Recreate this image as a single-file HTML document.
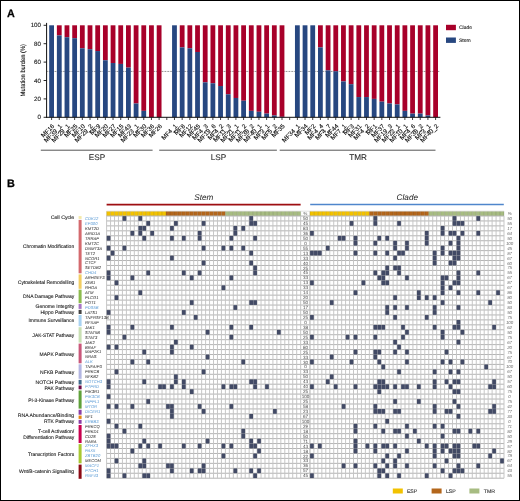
<!DOCTYPE html>
<html><head><meta charset="utf-8"><style>
html,body{margin:0;padding:0;background:#fff;-webkit-font-smoothing:antialiased;}
#w{position:relative;width:520px;height:501px;overflow:hidden;background:#fff;}
#b{position:absolute;left:0;top:0;width:520px;height:501px;box-sizing:border-box;border:1px solid #000;pointer-events:none;}
svg{position:absolute;left:0;top:0;display:block;will-change:transform;}
</style></head><body><div id="w">
<svg text-rendering="geometricPrecision" width="520" height="501" viewBox="0 0 520 501"><text x="6.95" y="16.6" font-family="Liberation Sans" font-weight="bold" font-size="10.8" fill="#000" stroke="#000" stroke-width="0.25">A</text><line x1="47.4" y1="71.45" x2="439.8" y2="71.45" stroke="#444" stroke-width="0.75" stroke-dasharray="0.75 0.8"/><g><rect x="49.2" y="25.3" width="4.8" height="92" fill="#274780"/><rect x="56.88" y="25.3" width="4.8" height="10.12" fill="#a8002a"/><rect x="56.88" y="35.42" width="4.8" height="81.88" fill="#274780"/><rect x="64.56" y="25.3" width="4.8" height="11.96" fill="#a8002a"/><rect x="64.56" y="37.26" width="4.8" height="80.04" fill="#274780"/><rect x="72.24" y="25.3" width="4.8" height="12.88" fill="#a8002a"/><rect x="72.24" y="38.18" width="4.8" height="79.12" fill="#274780"/><rect x="79.92" y="25.3" width="4.8" height="23" fill="#a8002a"/><rect x="79.92" y="48.3" width="4.8" height="69" fill="#274780"/><rect x="87.6" y="25.3" width="4.8" height="23.92" fill="#a8002a"/><rect x="87.6" y="49.22" width="4.8" height="68.08" fill="#274780"/><rect x="95.28" y="25.3" width="4.8" height="25.76" fill="#a8002a"/><rect x="95.28" y="51.06" width="4.8" height="66.24" fill="#274780"/><rect x="102.96" y="25.3" width="4.8" height="34.96" fill="#a8002a"/><rect x="102.96" y="60.26" width="4.8" height="57.04" fill="#274780"/><rect x="110.64" y="25.3" width="4.8" height="37.72" fill="#a8002a"/><rect x="110.64" y="63.02" width="4.8" height="54.28" fill="#274780"/><rect x="118.32" y="25.3" width="4.8" height="38.64" fill="#a8002a"/><rect x="118.32" y="63.94" width="4.8" height="53.36" fill="#274780"/><rect x="126" y="25.3" width="4.8" height="42.32" fill="#a8002a"/><rect x="126" y="67.62" width="4.8" height="49.68" fill="#274780"/><rect x="133.68" y="25.3" width="4.8" height="78.2" fill="#a8002a"/><rect x="133.68" y="103.5" width="4.8" height="13.8" fill="#274780"/><rect x="141.36" y="25.3" width="4.8" height="85.56" fill="#a8002a"/><rect x="141.36" y="110.86" width="4.8" height="6.44" fill="#274780"/><rect x="149.04" y="25.3" width="4.8" height="92" fill="#a8002a"/><rect x="156.72" y="25.3" width="4.8" height="92" fill="#a8002a"/><rect x="172.08" y="25.3" width="4.8" height="92" fill="#274780"/><rect x="179.76" y="25.3" width="4.8" height="22.08" fill="#a8002a"/><rect x="179.76" y="47.38" width="4.8" height="69.92" fill="#274780"/><rect x="187.44" y="25.3" width="4.8" height="23" fill="#a8002a"/><rect x="187.44" y="48.3" width="4.8" height="69" fill="#274780"/><rect x="195.12" y="25.3" width="4.8" height="26.68" fill="#a8002a"/><rect x="195.12" y="51.98" width="4.8" height="65.32" fill="#274780"/><rect x="202.8" y="25.3" width="4.8" height="57.04" fill="#a8002a"/><rect x="202.8" y="82.34" width="4.8" height="34.96" fill="#274780"/><rect x="210.48" y="25.3" width="4.8" height="57.96" fill="#a8002a"/><rect x="210.48" y="83.26" width="4.8" height="34.04" fill="#274780"/><rect x="218.16" y="25.3" width="4.8" height="60.72" fill="#a8002a"/><rect x="218.16" y="86.02" width="4.8" height="31.28" fill="#274780"/><rect x="225.84" y="25.3" width="4.8" height="69" fill="#a8002a"/><rect x="225.84" y="94.3" width="4.8" height="23" fill="#274780"/><rect x="233.52" y="25.3" width="4.8" height="72.68" fill="#a8002a"/><rect x="233.52" y="97.98" width="4.8" height="19.32" fill="#274780"/><rect x="241.2" y="25.3" width="4.8" height="75.44" fill="#a8002a"/><rect x="241.2" y="100.74" width="4.8" height="16.56" fill="#274780"/><rect x="248.88" y="25.3" width="4.8" height="85.56" fill="#a8002a"/><rect x="248.88" y="110.86" width="4.8" height="6.44" fill="#274780"/><rect x="256.56" y="25.3" width="4.8" height="86.48" fill="#a8002a"/><rect x="256.56" y="111.78" width="4.8" height="5.52" fill="#274780"/><rect x="264.24" y="25.3" width="4.8" height="88.32" fill="#a8002a"/><rect x="264.24" y="113.62" width="4.8" height="3.68" fill="#274780"/><rect x="271.92" y="25.3" width="4.8" height="90.16" fill="#a8002a"/><rect x="271.92" y="115.46" width="4.8" height="1.84" fill="#274780"/><rect x="279.6" y="25.3" width="4.8" height="91.54" fill="#a8002a"/><rect x="279.6" y="116.84" width="4.8" height="0.46" fill="#274780"/><rect x="294.96" y="25.3" width="4.8" height="92" fill="#274780"/><rect x="302.64" y="25.3" width="4.8" height="92" fill="#274780"/><rect x="310.32" y="25.3" width="4.8" height="92" fill="#274780"/><rect x="318" y="25.3" width="4.8" height="22.08" fill="#a8002a"/><rect x="318" y="47.38" width="4.8" height="69.92" fill="#274780"/><rect x="325.68" y="25.3" width="4.8" height="45.08" fill="#a8002a"/><rect x="325.68" y="70.38" width="4.8" height="46.92" fill="#274780"/><rect x="333.36" y="25.3" width="4.8" height="46" fill="#a8002a"/><rect x="333.36" y="71.3" width="4.8" height="46" fill="#274780"/><rect x="341.04" y="25.3" width="4.8" height="56.12" fill="#a8002a"/><rect x="341.04" y="81.42" width="4.8" height="35.88" fill="#274780"/><rect x="348.72" y="25.3" width="4.8" height="58.88" fill="#a8002a"/><rect x="348.72" y="84.18" width="4.8" height="33.12" fill="#274780"/><rect x="356.4" y="25.3" width="4.8" height="71.76" fill="#a8002a"/><rect x="356.4" y="97.06" width="4.8" height="20.24" fill="#274780"/><rect x="364.08" y="25.3" width="4.8" height="71.76" fill="#a8002a"/><rect x="364.08" y="97.06" width="4.8" height="20.24" fill="#274780"/><rect x="371.76" y="25.3" width="4.8" height="73.6" fill="#a8002a"/><rect x="371.76" y="98.9" width="4.8" height="18.4" fill="#274780"/><rect x="379.44" y="25.3" width="4.8" height="76.36" fill="#a8002a"/><rect x="379.44" y="101.66" width="4.8" height="15.64" fill="#274780"/><rect x="387.12" y="25.3" width="4.8" height="78.2" fill="#a8002a"/><rect x="387.12" y="103.5" width="4.8" height="13.8" fill="#274780"/><rect x="394.8" y="25.3" width="4.8" height="79.12" fill="#a8002a"/><rect x="394.8" y="104.42" width="4.8" height="12.88" fill="#274780"/><rect x="402.48" y="25.3" width="4.8" height="85.56" fill="#a8002a"/><rect x="402.48" y="110.86" width="4.8" height="6.44" fill="#274780"/><rect x="410.16" y="25.3" width="4.8" height="88.32" fill="#a8002a"/><rect x="410.16" y="113.62" width="4.8" height="3.68" fill="#274780"/><rect x="417.84" y="25.3" width="4.8" height="88.32" fill="#a8002a"/><rect x="417.84" y="113.62" width="4.8" height="3.68" fill="#274780"/><rect x="425.52" y="25.3" width="4.8" height="90.16" fill="#a8002a"/><rect x="425.52" y="115.46" width="4.8" height="1.84" fill="#274780"/><rect x="433.2" y="25.3" width="4.8" height="92" fill="#a8002a"/></g><line x1="46.6" y1="22.9" x2="46.6" y2="117.8" stroke="#111" stroke-width="1"/><line x1="46.1" y1="117.3" x2="440.4" y2="117.3" stroke="#111" stroke-width="1"/><line x1="43.6" y1="117.3" x2="46.6" y2="117.3" stroke="#111" stroke-width="0.9"/><text x="41.0" y="119.4" text-anchor="end" font-family="Liberation Sans" font-size="6.2" fill="#1a1a1a" stroke="#1a1a1a" stroke-width="0.12">0</text><line x1="43.6" y1="98.9" x2="46.6" y2="98.9" stroke="#111" stroke-width="0.9"/><text x="41.0" y="101" text-anchor="end" font-family="Liberation Sans" font-size="6.2" fill="#1a1a1a" stroke="#1a1a1a" stroke-width="0.12">20</text><line x1="43.6" y1="80.5" x2="46.6" y2="80.5" stroke="#111" stroke-width="0.9"/><text x="41.0" y="82.6" text-anchor="end" font-family="Liberation Sans" font-size="6.2" fill="#1a1a1a" stroke="#1a1a1a" stroke-width="0.12">40</text><line x1="43.6" y1="62.1" x2="46.6" y2="62.1" stroke="#111" stroke-width="0.9"/><text x="41.0" y="64.2" text-anchor="end" font-family="Liberation Sans" font-size="6.2" fill="#1a1a1a" stroke="#1a1a1a" stroke-width="0.12">60</text><line x1="43.6" y1="43.7" x2="46.6" y2="43.7" stroke="#111" stroke-width="0.9"/><text x="41.0" y="45.8" text-anchor="end" font-family="Liberation Sans" font-size="6.2" fill="#1a1a1a" stroke="#1a1a1a" stroke-width="0.12">80</text><line x1="43.6" y1="25.3" x2="46.6" y2="25.3" stroke="#111" stroke-width="0.9"/><text x="41.0" y="27.4" text-anchor="end" font-family="Liberation Sans" font-size="6.2" fill="#1a1a1a" stroke="#1a1a1a" stroke-width="0.12">100</text><path d="M51.6 117.3v2.7 M59.28 117.3v2.7 M66.96 117.3v2.7 M74.64 117.3v2.7 M82.32 117.3v2.7 M90 117.3v2.7 M97.68 117.3v2.7 M105.36 117.3v2.7 M113.04 117.3v2.7 M120.72 117.3v2.7 M128.4 117.3v2.7 M136.08 117.3v2.7 M143.76 117.3v2.7 M151.44 117.3v2.7 M159.12 117.3v2.7 M166.8 117.3v2.7 M174.48 117.3v2.7 M182.16 117.3v2.7 M189.84 117.3v2.7 M197.52 117.3v2.7 M205.2 117.3v2.7 M212.88 117.3v2.7 M220.56 117.3v2.7 M228.24 117.3v2.7 M235.92 117.3v2.7 M243.6 117.3v2.7 M251.28 117.3v2.7 M258.96 117.3v2.7 M266.64 117.3v2.7 M274.32 117.3v2.7 M282 117.3v2.7 M289.68 117.3v2.7 M297.36 117.3v2.7 M305.04 117.3v2.7 M312.72 117.3v2.7 M320.4 117.3v2.7 M328.08 117.3v2.7 M335.76 117.3v2.7 M343.44 117.3v2.7 M351.12 117.3v2.7 M358.8 117.3v2.7 M366.48 117.3v2.7 M374.16 117.3v2.7 M381.84 117.3v2.7 M389.52 117.3v2.7 M397.2 117.3v2.7 M404.88 117.3v2.7 M412.56 117.3v2.7 M420.24 117.3v2.7 M427.92 117.3v2.7 M435.6 117.3v2.7" stroke="#111" stroke-width="0.8"/><text transform="translate(24.9 96.4) rotate(-90)" textLength="52.4" lengthAdjust="spacingAndGlyphs" font-family="Liberation Sans" font-size="6.4" fill="#1a1a1a" stroke="#1a1a1a" stroke-width="0.12">Mutation burden (%)</text><text transform="translate(54.8 126.6) rotate(-45) scale(1 1)" text-anchor="end" font-family="Liberation Sans" font-size="6.2" fill="#111" stroke="#111" stroke-width="0.14">MF16</text><text transform="translate(62.48 126.6) rotate(-45) scale(1 1)" text-anchor="end" font-family="Liberation Sans" font-size="6.2" fill="#111" stroke="#111" stroke-width="0.14">MF39_1</text><text transform="translate(70.16 126.6) rotate(-45) scale(1 1)" text-anchor="end" font-family="Liberation Sans" font-size="6.2" fill="#111" stroke="#111" stroke-width="0.14">MF29_1</text><text transform="translate(77.84 126.6) rotate(-45) scale(1 1)" text-anchor="end" font-family="Liberation Sans" font-size="6.2" fill="#111" stroke="#111" stroke-width="0.14">MF25</text><text transform="translate(85.52 126.6) rotate(-45) scale(1 1)" text-anchor="end" font-family="Liberation Sans" font-size="6.2" fill="#111" stroke="#111" stroke-width="0.14">MF10</text><text transform="translate(93.2 126.6) rotate(-45) scale(1 1)" text-anchor="end" font-family="Liberation Sans" font-size="6.2" fill="#111" stroke="#111" stroke-width="0.14">MF29_2</text><text transform="translate(100.88 126.6) rotate(-45) scale(1 1)" text-anchor="end" font-family="Liberation Sans" font-size="6.2" fill="#111" stroke="#111" stroke-width="0.14">MF9</text><text transform="translate(108.56 126.6) rotate(-45) scale(1 1)" text-anchor="end" font-family="Liberation Sans" font-size="6.2" fill="#111" stroke="#111" stroke-width="0.14">MF20</text><text transform="translate(116.24 126.6) rotate(-45) scale(1 1)" text-anchor="end" font-family="Liberation Sans" font-size="6.2" fill="#111" stroke="#111" stroke-width="0.14">MF27</text><text transform="translate(123.92 126.6) rotate(-45) scale(1 1)" text-anchor="end" font-family="Liberation Sans" font-size="6.2" fill="#111" stroke="#111" stroke-width="0.14">MF15</text><text transform="translate(131.6 126.6) rotate(-45) scale(1 1)" text-anchor="end" font-family="Liberation Sans" font-size="6.2" fill="#111" stroke="#111" stroke-width="0.14">MF43</text><text transform="translate(139.28 126.6) rotate(-45) scale(1 1)" text-anchor="end" font-family="Liberation Sans" font-size="6.2" fill="#111" stroke="#111" stroke-width="0.14">MF23_1</text><text transform="translate(146.96 126.6) rotate(-45) scale(1 1)" text-anchor="end" font-family="Liberation Sans" font-size="6.2" fill="#111" stroke="#111" stroke-width="0.14">MF30</text><text transform="translate(154.64 126.6) rotate(-45) scale(1 1)" text-anchor="end" font-family="Liberation Sans" font-size="6.2" fill="#111" stroke="#111" stroke-width="0.14">MF36</text><text transform="translate(162.32 126.6) rotate(-45) scale(1 1)" text-anchor="end" font-family="Liberation Sans" font-size="6.2" fill="#111" stroke="#111" stroke-width="0.14">MF26</text><text transform="translate(177.68 126.6) rotate(-45) scale(1 1)" text-anchor="end" font-family="Liberation Sans" font-size="6.2" fill="#111" stroke="#111" stroke-width="0.14">MF4_1</text><text transform="translate(185.36 126.6) rotate(-45) scale(1 1)" text-anchor="end" font-family="Liberation Sans" font-size="6.2" fill="#111" stroke="#111" stroke-width="0.14">MF8</text><text transform="translate(193.04 126.6) rotate(-45) scale(1 1)" text-anchor="end" font-family="Liberation Sans" font-size="6.2" fill="#111" stroke="#111" stroke-width="0.14">MF12</text><text transform="translate(200.72 126.6) rotate(-45) scale(1 1)" text-anchor="end" font-family="Liberation Sans" font-size="6.2" fill="#111" stroke="#111" stroke-width="0.14">MF45</text><text transform="translate(208.4 126.6) rotate(-45) scale(1 1)" text-anchor="end" font-family="Liberation Sans" font-size="6.2" fill="#111" stroke="#111" stroke-width="0.14">MF4_3</text><text transform="translate(216.08 126.6) rotate(-45) scale(1 1)" text-anchor="end" font-family="Liberation Sans" font-size="6.2" fill="#111" stroke="#111" stroke-width="0.14">MF19_6</text><text transform="translate(223.76 126.6) rotate(-45) scale(1 1)" text-anchor="end" font-family="Liberation Sans" font-size="6.2" fill="#111" stroke="#111" stroke-width="0.14">MF4_2</text><text transform="translate(231.44 126.6) rotate(-45) scale(1 1)" text-anchor="end" font-family="Liberation Sans" font-size="6.2" fill="#111" stroke="#111" stroke-width="0.14">MF11_3</text><text transform="translate(239.12 126.6) rotate(-45) scale(1 1)" text-anchor="end" font-family="Liberation Sans" font-size="6.2" fill="#111" stroke="#111" stroke-width="0.14">MF21_1</text><text transform="translate(246.8 126.6) rotate(-45) scale(1 1)" text-anchor="end" font-family="Liberation Sans" font-size="6.2" fill="#111" stroke="#111" stroke-width="0.14">MF11_2</text><text transform="translate(254.48 126.6) rotate(-45) scale(1 1)" text-anchor="end" font-family="Liberation Sans" font-size="6.2" fill="#111" stroke="#111" stroke-width="0.14">MF38_2</text><text transform="translate(262.16 126.6) rotate(-45) scale(1 1)" text-anchor="end" font-family="Liberation Sans" font-size="6.2" fill="#111" stroke="#111" stroke-width="0.14">MF40_1</text><text transform="translate(269.84 126.6) rotate(-45) scale(1 1)" text-anchor="end" font-family="Liberation Sans" font-size="6.2" fill="#111" stroke="#111" stroke-width="0.14">MF3_1</text><text transform="translate(277.52 126.6) rotate(-45) scale(1 1)" text-anchor="end" font-family="Liberation Sans" font-size="6.2" fill="#111" stroke="#111" stroke-width="0.14">MF5_2</text><text transform="translate(285.2 126.6) rotate(-45) scale(1 1)" text-anchor="end" font-family="Liberation Sans" font-size="6.2" fill="#111" stroke="#111" stroke-width="0.14">MF35</text><text transform="translate(300.56 126.6) rotate(-45) scale(1 1)" text-anchor="end" font-family="Liberation Sans" font-size="6.2" fill="#111" stroke="#111" stroke-width="0.14">MF34_1</text><text transform="translate(308.24 126.6) rotate(-45) scale(1 1)" text-anchor="end" font-family="Liberation Sans" font-size="6.2" fill="#111" stroke="#111" stroke-width="0.14">MF34</text><text transform="translate(315.92 126.6) rotate(-45) scale(1 1)" text-anchor="end" font-family="Liberation Sans" font-size="6.2" fill="#111" stroke="#111" stroke-width="0.14">MF2</text><text transform="translate(323.6 126.6) rotate(-45) scale(1 1)" text-anchor="end" font-family="Liberation Sans" font-size="6.2" fill="#111" stroke="#111" stroke-width="0.14">MF4_4</text><text transform="translate(331.28 126.6) rotate(-45) scale(1 1)" text-anchor="end" font-family="Liberation Sans" font-size="6.2" fill="#111" stroke="#111" stroke-width="0.14">MF4_7</text><text transform="translate(338.96 126.6) rotate(-45) scale(1 1)" text-anchor="end" font-family="Liberation Sans" font-size="6.2" fill="#111" stroke="#111" stroke-width="0.14">MF44</text><text transform="translate(346.64 126.6) rotate(-45) scale(1 1)" text-anchor="end" font-family="Liberation Sans" font-size="6.2" fill="#111" stroke="#111" stroke-width="0.14">MF7_1</text><text transform="translate(354.32 126.6) rotate(-45) scale(1 1)" text-anchor="end" font-family="Liberation Sans" font-size="6.2" fill="#111" stroke="#111" stroke-width="0.14">MF3</text><text transform="translate(362 126.6) rotate(-45) scale(1 1)" text-anchor="end" font-family="Liberation Sans" font-size="6.2" fill="#111" stroke="#111" stroke-width="0.14">MF31</text><text transform="translate(369.68 126.6) rotate(-45) scale(1 1)" text-anchor="end" font-family="Liberation Sans" font-size="6.2" fill="#111" stroke="#111" stroke-width="0.14">MF4_2</text><text transform="translate(377.36 126.6) rotate(-45) scale(1 1)" text-anchor="end" font-family="Liberation Sans" font-size="6.2" fill="#111" stroke="#111" stroke-width="0.14">MF1</text><text transform="translate(385.04 126.6) rotate(-45) scale(1 1)" text-anchor="end" font-family="Liberation Sans" font-size="6.2" fill="#111" stroke="#111" stroke-width="0.14">MF37</text><text transform="translate(392.72 126.6) rotate(-45) scale(1 1)" text-anchor="end" font-family="Liberation Sans" font-size="6.2" fill="#111" stroke="#111" stroke-width="0.14">MF19_3</text><text transform="translate(400.4 126.6) rotate(-45) scale(1 1)" text-anchor="end" font-family="Liberation Sans" font-size="6.2" fill="#111" stroke="#111" stroke-width="0.14">MF22_1</text><text transform="translate(408.08 126.6) rotate(-45) scale(1 1)" text-anchor="end" font-family="Liberation Sans" font-size="6.2" fill="#111" stroke="#111" stroke-width="0.14">MF10_1</text><text transform="translate(415.76 126.6) rotate(-45) scale(1 1)" text-anchor="end" font-family="Liberation Sans" font-size="6.2" fill="#111" stroke="#111" stroke-width="0.14">MF4_6</text><text transform="translate(423.44 126.6) rotate(-45) scale(1 1)" text-anchor="end" font-family="Liberation Sans" font-size="6.2" fill="#111" stroke="#111" stroke-width="0.14">MF38_2</text><text transform="translate(431.12 126.6) rotate(-45) scale(1 1)" text-anchor="end" font-family="Liberation Sans" font-size="6.2" fill="#111" stroke="#111" stroke-width="0.14">MF3_1</text><text transform="translate(438.8 126.6) rotate(-45) scale(1 1)" text-anchor="end" font-family="Liberation Sans" font-size="6.2" fill="#111" stroke="#111" stroke-width="0.14">MF40_2</text><line x1="40.8" y1="150.2" x2="152.6" y2="150.2" stroke="#555" stroke-width="1"/><text x="97.0" y="160.4" text-anchor="middle" font-family="Liberation Sans" font-size="8.2" fill="#2a2a2a" stroke="#2a2a2a" stroke-width="0.1">ESP</text><line x1="159.2" y1="150.2" x2="276.9" y2="150.2" stroke="#555" stroke-width="1"/><text x="218.5" y="160.4" text-anchor="middle" font-family="Liberation Sans" font-size="8.2" fill="#2a2a2a" stroke="#2a2a2a" stroke-width="0.1">LSP</text><line x1="279.7" y1="150.2" x2="435.5" y2="150.2" stroke="#555" stroke-width="1"/><text x="358.0" y="160.4" text-anchor="middle" font-family="Liberation Sans" font-size="8.2" fill="#2a2a2a" stroke="#2a2a2a" stroke-width="0.1">TMR</text><rect x="446" y="24.8" width="9.9" height="5.4" fill="#a8002a"/><rect x="446" y="37.5" width="9.9" height="5.4" fill="#274780"/><text x="459" y="29.1" font-family="Liberation Sans" font-size="5.0" fill="#222" stroke="#222" stroke-width="0.1">Clade</text><text x="459" y="41.9" font-family="Liberation Sans" font-size="5.0" fill="#222" stroke="#222" stroke-width="0.1">Stem</text><text x="6.95" y="186.5" font-family="Liberation Sans" font-weight="bold" font-size="10.8" fill="#000" stroke="#000" stroke-width="0.25">B</text><text x="203.9" y="199.5" text-anchor="middle" font-family="Liberation Sans" font-style="italic" font-size="8.2" fill="#222">Stem</text><text x="407.3" y="199.6" text-anchor="middle" font-family="Liberation Sans" font-style="italic" font-size="8.2" fill="#222">Clade</text><line x1="106.6" y1="204.6" x2="300.64" y2="204.6" stroke="#9e0e12" stroke-width="1.6"/><line x1="310.2" y1="204.5" x2="503.8" y2="204.5" stroke="#4f86cc" stroke-width="1.5"/><rect x="300.64" y="211.2" width="9.31" height="4.8" fill="#fff"/><rect x="106.6" y="211.2" width="3.96" height="4.8" fill="#f2c200"/><rect x="110.56" y="211.2" width="3.96" height="4.8" fill="#f2c200"/><rect x="114.52" y="211.2" width="3.96" height="4.8" fill="#f2c200"/><rect x="118.48" y="211.2" width="3.96" height="4.8" fill="#f2c200"/><rect x="122.44" y="211.2" width="3.96" height="4.8" fill="#f2c200"/><rect x="126.4" y="211.2" width="3.96" height="4.8" fill="#f2c200"/><rect x="130.36" y="211.2" width="3.96" height="4.8" fill="#f2c200"/><rect x="134.32" y="211.2" width="3.96" height="4.8" fill="#f2c200"/><rect x="138.28" y="211.2" width="3.96" height="4.8" fill="#f2c200"/><rect x="142.24" y="211.2" width="3.96" height="4.8" fill="#f2c200"/><rect x="146.2" y="211.2" width="3.96" height="4.8" fill="#f2c200"/><rect x="150.16" y="211.2" width="3.96" height="4.8" fill="#f2c200"/><rect x="154.12" y="211.2" width="3.96" height="4.8" fill="#f2c200"/><rect x="158.08" y="211.2" width="3.96" height="4.8" fill="#f2c200"/><rect x="162.04" y="211.2" width="3.96" height="4.8" fill="#f2c200"/><rect x="166" y="211.2" width="3.96" height="4.8" fill="#b3661b"/><rect x="169.96" y="211.2" width="3.96" height="4.8" fill="#b3661b"/><rect x="173.92" y="211.2" width="3.96" height="4.8" fill="#b3661b"/><rect x="177.88" y="211.2" width="3.96" height="4.8" fill="#b3661b"/><rect x="181.84" y="211.2" width="3.96" height="4.8" fill="#b3661b"/><rect x="185.8" y="211.2" width="3.96" height="4.8" fill="#b3661b"/><rect x="189.76" y="211.2" width="3.96" height="4.8" fill="#b3661b"/><rect x="193.72" y="211.2" width="3.96" height="4.8" fill="#b3661b"/><rect x="197.68" y="211.2" width="3.96" height="4.8" fill="#b3661b"/><rect x="201.64" y="211.2" width="3.96" height="4.8" fill="#b3661b"/><rect x="205.6" y="211.2" width="3.96" height="4.8" fill="#b3661b"/><rect x="209.56" y="211.2" width="3.96" height="4.8" fill="#b3661b"/><rect x="213.52" y="211.2" width="3.96" height="4.8" fill="#b3661b"/><rect x="217.48" y="211.2" width="3.96" height="4.8" fill="#b3661b"/><rect x="221.44" y="211.2" width="3.96" height="4.8" fill="#b3661b"/><rect x="225.4" y="211.2" width="3.96" height="4.8" fill="#a7bc82"/><rect x="229.36" y="211.2" width="3.96" height="4.8" fill="#a7bc82"/><rect x="233.32" y="211.2" width="3.96" height="4.8" fill="#a7bc82"/><rect x="237.28" y="211.2" width="3.96" height="4.8" fill="#a7bc82"/><rect x="241.24" y="211.2" width="3.96" height="4.8" fill="#a7bc82"/><rect x="245.2" y="211.2" width="3.96" height="4.8" fill="#a7bc82"/><rect x="249.16" y="211.2" width="3.96" height="4.8" fill="#a7bc82"/><rect x="253.12" y="211.2" width="3.96" height="4.8" fill="#a7bc82"/><rect x="257.08" y="211.2" width="3.96" height="4.8" fill="#a7bc82"/><rect x="261.04" y="211.2" width="3.96" height="4.8" fill="#a7bc82"/><rect x="265" y="211.2" width="3.96" height="4.8" fill="#a7bc82"/><rect x="268.96" y="211.2" width="3.96" height="4.8" fill="#a7bc82"/><rect x="272.92" y="211.2" width="3.96" height="4.8" fill="#a7bc82"/><rect x="276.88" y="211.2" width="3.96" height="4.8" fill="#a7bc82"/><rect x="280.84" y="211.2" width="3.96" height="4.8" fill="#a7bc82"/><rect x="284.8" y="211.2" width="3.96" height="4.8" fill="#a7bc82"/><rect x="288.76" y="211.2" width="3.96" height="4.8" fill="#a7bc82"/><rect x="292.72" y="211.2" width="3.96" height="4.8" fill="#a7bc82"/><rect x="296.68" y="211.2" width="3.96" height="4.8" fill="#a7bc82"/><path d="M106.6 211.2V216M110.56 211.2V216M114.52 211.2V216M118.48 211.2V216M122.44 211.2V216M126.4 211.2V216M130.36 211.2V216M134.32 211.2V216M138.28 211.2V216M142.24 211.2V216M146.2 211.2V216M150.16 211.2V216M154.12 211.2V216M158.08 211.2V216M162.04 211.2V216M166 211.2V216M169.96 211.2V216M173.92 211.2V216M177.88 211.2V216M181.84 211.2V216M185.8 211.2V216M189.76 211.2V216M193.72 211.2V216M197.68 211.2V216M201.64 211.2V216M205.6 211.2V216M209.56 211.2V216M213.52 211.2V216M217.48 211.2V216M221.44 211.2V216M225.4 211.2V216M229.36 211.2V216M233.32 211.2V216M237.28 211.2V216M241.24 211.2V216M245.2 211.2V216M249.16 211.2V216M253.12 211.2V216M257.08 211.2V216M261.04 211.2V216M265 211.2V216M268.96 211.2V216M272.92 211.2V216M276.88 211.2V216M280.84 211.2V216M284.8 211.2V216M288.76 211.2V216M292.72 211.2V216M296.68 211.2V216M300.64 211.2V216M309.95 211.2V216" stroke="#000" stroke-opacity="0.16" stroke-width="0.8" fill="none"/><rect x="309.95" y="211.2" width="3.96" height="4.8" fill="#f2c200"/><rect x="313.91" y="211.2" width="3.96" height="4.8" fill="#f2c200"/><rect x="317.87" y="211.2" width="3.96" height="4.8" fill="#f2c200"/><rect x="321.83" y="211.2" width="3.96" height="4.8" fill="#f2c200"/><rect x="325.79" y="211.2" width="3.96" height="4.8" fill="#f2c200"/><rect x="329.75" y="211.2" width="3.96" height="4.8" fill="#f2c200"/><rect x="333.71" y="211.2" width="3.96" height="4.8" fill="#f2c200"/><rect x="337.67" y="211.2" width="3.96" height="4.8" fill="#f2c200"/><rect x="341.63" y="211.2" width="3.96" height="4.8" fill="#f2c200"/><rect x="345.59" y="211.2" width="3.96" height="4.8" fill="#f2c200"/><rect x="349.55" y="211.2" width="3.96" height="4.8" fill="#f2c200"/><rect x="353.51" y="211.2" width="3.96" height="4.8" fill="#f2c200"/><rect x="357.47" y="211.2" width="3.96" height="4.8" fill="#f2c200"/><rect x="361.43" y="211.2" width="3.96" height="4.8" fill="#f2c200"/><rect x="365.39" y="211.2" width="3.96" height="4.8" fill="#f2c200"/><rect x="369.35" y="211.2" width="3.96" height="4.8" fill="#b3661b"/><rect x="373.31" y="211.2" width="3.96" height="4.8" fill="#b3661b"/><rect x="377.27" y="211.2" width="3.96" height="4.8" fill="#b3661b"/><rect x="381.23" y="211.2" width="3.96" height="4.8" fill="#b3661b"/><rect x="385.19" y="211.2" width="3.96" height="4.8" fill="#b3661b"/><rect x="389.15" y="211.2" width="3.96" height="4.8" fill="#b3661b"/><rect x="393.11" y="211.2" width="3.96" height="4.8" fill="#b3661b"/><rect x="397.07" y="211.2" width="3.96" height="4.8" fill="#b3661b"/><rect x="401.03" y="211.2" width="3.96" height="4.8" fill="#b3661b"/><rect x="404.99" y="211.2" width="3.96" height="4.8" fill="#b3661b"/><rect x="408.95" y="211.2" width="3.96" height="4.8" fill="#b3661b"/><rect x="412.91" y="211.2" width="3.96" height="4.8" fill="#b3661b"/><rect x="416.87" y="211.2" width="3.96" height="4.8" fill="#b3661b"/><rect x="420.83" y="211.2" width="3.96" height="4.8" fill="#b3661b"/><rect x="424.79" y="211.2" width="3.96" height="4.8" fill="#b3661b"/><rect x="428.75" y="211.2" width="3.96" height="4.8" fill="#a7bc82"/><rect x="432.71" y="211.2" width="3.96" height="4.8" fill="#a7bc82"/><rect x="436.67" y="211.2" width="3.96" height="4.8" fill="#a7bc82"/><rect x="440.63" y="211.2" width="3.96" height="4.8" fill="#a7bc82"/><rect x="444.59" y="211.2" width="3.96" height="4.8" fill="#a7bc82"/><rect x="448.55" y="211.2" width="3.96" height="4.8" fill="#a7bc82"/><rect x="452.51" y="211.2" width="3.96" height="4.8" fill="#a7bc82"/><rect x="456.47" y="211.2" width="3.96" height="4.8" fill="#a7bc82"/><rect x="460.43" y="211.2" width="3.96" height="4.8" fill="#a7bc82"/><rect x="464.39" y="211.2" width="3.96" height="4.8" fill="#a7bc82"/><rect x="468.35" y="211.2" width="3.96" height="4.8" fill="#a7bc82"/><rect x="472.31" y="211.2" width="3.96" height="4.8" fill="#a7bc82"/><rect x="476.27" y="211.2" width="3.96" height="4.8" fill="#a7bc82"/><rect x="480.23" y="211.2" width="3.96" height="4.8" fill="#a7bc82"/><rect x="484.19" y="211.2" width="3.96" height="4.8" fill="#a7bc82"/><rect x="488.15" y="211.2" width="3.96" height="4.8" fill="#a7bc82"/><rect x="492.11" y="211.2" width="3.96" height="4.8" fill="#a7bc82"/><rect x="496.07" y="211.2" width="3.96" height="4.8" fill="#a7bc82"/><rect x="500.03" y="211.2" width="3.96" height="4.8" fill="#a7bc82"/><path d="M309.95 211.2V216M313.91 211.2V216M317.87 211.2V216M321.83 211.2V216M325.79 211.2V216M329.75 211.2V216M333.71 211.2V216M337.67 211.2V216M341.63 211.2V216M345.59 211.2V216M349.55 211.2V216M353.51 211.2V216M357.47 211.2V216M361.43 211.2V216M365.39 211.2V216M369.35 211.2V216M373.31 211.2V216M377.27 211.2V216M381.23 211.2V216M385.19 211.2V216M389.15 211.2V216M393.11 211.2V216M397.07 211.2V216M401.03 211.2V216M404.99 211.2V216M408.95 211.2V216M412.91 211.2V216M416.87 211.2V216M420.83 211.2V216M424.79 211.2V216M428.75 211.2V216M432.71 211.2V216M436.67 211.2V216M440.63 211.2V216M444.59 211.2V216M448.55 211.2V216M452.51 211.2V216M456.47 211.2V216M460.43 211.2V216M464.39 211.2V216M468.35 211.2V216M472.31 211.2V216M476.27 211.2V216M480.23 211.2V216M484.19 211.2V216M488.15 211.2V216M492.11 211.2V216M496.07 211.2V216M500.03 211.2V216M503.99 211.2V216" stroke="#000" stroke-opacity="0.16" stroke-width="0.8" fill="none"/><rect x="106.6" y="216.0" width="203.35" height="262.19" fill="#fff"/><rect x="309.95" y="216.0" width="194.04" height="262.19" fill="#fff"/><path d="M106.6 216H309.95M106.6 220.95H309.95M106.6 225.89H309.95M106.6 230.84H309.95M106.6 235.79H309.95M106.6 240.74H309.95M106.6 245.68H309.95M106.6 250.63H309.95M106.6 255.58H309.95M106.6 260.52H309.95M106.6 265.47H309.95M106.6 270.42H309.95M106.6 275.36H309.95M106.6 280.31H309.95M106.6 285.26H309.95M106.6 290.2H309.95M106.6 295.15H309.95M106.6 300.1H309.95M106.6 305.05H309.95M106.6 309.99H309.95M106.6 314.94H309.95M106.6 319.89H309.95M106.6 324.83H309.95M106.6 329.78H309.95M106.6 334.73H309.95M106.6 339.68H309.95M106.6 344.62H309.95M106.6 349.57H309.95M106.6 354.52H309.95M106.6 359.46H309.95M106.6 364.41H309.95M106.6 369.36H309.95M106.6 374.3H309.95M106.6 379.25H309.95M106.6 384.2H309.95M106.6 389.14H309.95M106.6 394.09H309.95M106.6 399.04H309.95M106.6 403.99H309.95M106.6 408.93H309.95M106.6 413.88H309.95M106.6 418.83H309.95M106.6 423.77H309.95M106.6 428.72H309.95M106.6 433.67H309.95M106.6 438.62H309.95M106.6 443.56H309.95M106.6 448.51H309.95M106.6 453.46H309.95M106.6 458.4H309.95M106.6 463.35H309.95M106.6 468.3H309.95M106.6 473.24H309.95M106.6 478.19H309.95" stroke="#b4b4b4" stroke-width="1.0" fill="none"/><path d="M106.6 216V478.19M110.56 216V478.19M114.52 216V478.19M118.48 216V478.19M122.44 216V478.19M126.4 216V478.19M130.36 216V478.19M134.32 216V478.19M138.28 216V478.19M142.24 216V478.19M146.2 216V478.19M150.16 216V478.19M154.12 216V478.19M158.08 216V478.19M162.04 216V478.19M166 216V478.19M169.96 216V478.19M173.92 216V478.19M177.88 216V478.19M181.84 216V478.19M185.8 216V478.19M189.76 216V478.19M193.72 216V478.19M197.68 216V478.19M201.64 216V478.19M205.6 216V478.19M209.56 216V478.19M213.52 216V478.19M217.48 216V478.19M221.44 216V478.19M225.4 216V478.19M229.36 216V478.19M233.32 216V478.19M237.28 216V478.19M241.24 216V478.19M245.2 216V478.19M249.16 216V478.19M253.12 216V478.19M257.08 216V478.19M261.04 216V478.19M265 216V478.19M268.96 216V478.19M272.92 216V478.19M276.88 216V478.19M280.84 216V478.19M284.8 216V478.19M288.76 216V478.19M292.72 216V478.19M296.68 216V478.19M300.64 216V478.19M309.95 216V478.19" stroke="#c4c4c4" stroke-width="0.95" fill="none"/><path d="M309.95 216H503.99M309.95 220.95H503.99M309.95 225.89H503.99M309.95 230.84H503.99M309.95 235.79H503.99M309.95 240.74H503.99M309.95 245.68H503.99M309.95 250.63H503.99M309.95 255.58H503.99M309.95 260.52H503.99M309.95 265.47H503.99M309.95 270.42H503.99M309.95 275.36H503.99M309.95 280.31H503.99M309.95 285.26H503.99M309.95 290.2H503.99M309.95 295.15H503.99M309.95 300.1H503.99M309.95 305.05H503.99M309.95 309.99H503.99M309.95 314.94H503.99M309.95 319.89H503.99M309.95 324.83H503.99M309.95 329.78H503.99M309.95 334.73H503.99M309.95 339.68H503.99M309.95 344.62H503.99M309.95 349.57H503.99M309.95 354.52H503.99M309.95 359.46H503.99M309.95 364.41H503.99M309.95 369.36H503.99M309.95 374.3H503.99M309.95 379.25H503.99M309.95 384.2H503.99M309.95 389.14H503.99M309.95 394.09H503.99M309.95 399.04H503.99M309.95 403.99H503.99M309.95 408.93H503.99M309.95 413.88H503.99M309.95 418.83H503.99M309.95 423.77H503.99M309.95 428.72H503.99M309.95 433.67H503.99M309.95 438.62H503.99M309.95 443.56H503.99M309.95 448.51H503.99M309.95 453.46H503.99M309.95 458.4H503.99M309.95 463.35H503.99M309.95 468.3H503.99M309.95 473.24H503.99M309.95 478.19H503.99" stroke="#b4b4b4" stroke-width="1.0" fill="none"/><path d="M309.95 216V478.19M313.91 216V478.19M317.87 216V478.19M321.83 216V478.19M325.79 216V478.19M329.75 216V478.19M333.71 216V478.19M337.67 216V478.19M341.63 216V478.19M345.59 216V478.19M349.55 216V478.19M353.51 216V478.19M357.47 216V478.19M361.43 216V478.19M365.39 216V478.19M369.35 216V478.19M373.31 216V478.19M377.27 216V478.19M381.23 216V478.19M385.19 216V478.19M389.15 216V478.19M393.11 216V478.19M397.07 216V478.19M401.03 216V478.19M404.99 216V478.19M408.95 216V478.19M412.91 216V478.19M416.87 216V478.19M420.83 216V478.19M424.79 216V478.19M428.75 216V478.19M432.71 216V478.19M436.67 216V478.19M440.63 216V478.19M444.59 216V478.19M448.55 216V478.19M452.51 216V478.19M456.47 216V478.19M460.43 216V478.19M464.39 216V478.19M468.35 216V478.19M472.31 216V478.19M476.27 216V478.19M480.23 216V478.19M484.19 216V478.19M488.15 216V478.19M492.11 216V478.19M496.07 216V478.19M500.03 216V478.19M503.99 216V478.19" stroke="#c4c4c4" stroke-width="0.95" fill="none"/><rect x="122.56" y="216.12" width="3.72" height="4.71" fill="#424a65"/><rect x="138.4" y="216.12" width="3.72" height="4.71" fill="#424a65"/><rect x="249.28" y="216.12" width="3.72" height="4.71" fill="#424a65"/><rect x="146.32" y="221.07" width="3.72" height="4.71" fill="#424a65"/><rect x="174.04" y="221.07" width="3.72" height="4.71" fill="#424a65"/><rect x="201.76" y="221.07" width="3.72" height="4.71" fill="#424a65"/><rect x="249.28" y="221.07" width="3.72" height="4.71" fill="#424a65"/><rect x="253.24" y="221.07" width="3.72" height="4.71" fill="#424a65"/><rect x="138.4" y="226.01" width="3.72" height="4.71" fill="#424a65"/><rect x="142.36" y="226.01" width="3.72" height="4.71" fill="#424a65"/><rect x="170.08" y="226.01" width="3.72" height="4.71" fill="#424a65"/><rect x="233.44" y="226.01" width="3.72" height="4.71" fill="#424a65"/><rect x="241.36" y="226.01" width="3.72" height="4.71" fill="#424a65"/><rect x="130.48" y="230.96" width="3.72" height="4.71" fill="#424a65"/><rect x="138.4" y="230.96" width="3.72" height="4.71" fill="#424a65"/><rect x="150.28" y="230.96" width="3.72" height="4.71" fill="#424a65"/><rect x="197.8" y="230.96" width="3.72" height="4.71" fill="#424a65"/><rect x="233.44" y="230.96" width="3.72" height="4.71" fill="#424a65"/><rect x="106.72" y="235.91" width="3.72" height="4.71" fill="#424a65"/><rect x="142.36" y="235.91" width="3.72" height="4.71" fill="#424a65"/><rect x="170.08" y="235.91" width="3.72" height="4.71" fill="#424a65"/><rect x="181.96" y="235.91" width="3.72" height="4.71" fill="#424a65"/><rect x="197.8" y="235.91" width="3.72" height="4.71" fill="#424a65"/><rect x="229.48" y="235.91" width="3.72" height="4.71" fill="#424a65"/><rect x="253.24" y="235.91" width="3.72" height="4.71" fill="#424a65"/><rect x="106.72" y="245.8" width="3.72" height="4.71" fill="#424a65"/><rect x="122.56" y="245.8" width="3.72" height="4.71" fill="#424a65"/><rect x="201.76" y="245.8" width="3.72" height="4.71" fill="#424a65"/><rect x="221.56" y="245.8" width="3.72" height="4.71" fill="#424a65"/><rect x="229.48" y="245.8" width="3.72" height="4.71" fill="#424a65"/><rect x="241.36" y="245.8" width="3.72" height="4.71" fill="#424a65"/><rect x="110.68" y="250.75" width="3.72" height="4.71" fill="#424a65"/><rect x="249.28" y="250.75" width="3.72" height="4.71" fill="#424a65"/><rect x="106.72" y="255.7" width="3.72" height="4.71" fill="#424a65"/><rect x="170.08" y="255.7" width="3.72" height="4.71" fill="#424a65"/><rect x="201.76" y="260.64" width="3.72" height="4.71" fill="#424a65"/><rect x="249.28" y="260.64" width="3.72" height="4.71" fill="#424a65"/><rect x="253.24" y="265.59" width="3.72" height="4.71" fill="#424a65"/><rect x="106.72" y="270.54" width="3.72" height="4.71" fill="#424a65"/><rect x="146.32" y="270.54" width="3.72" height="4.71" fill="#424a65"/><rect x="181.96" y="270.54" width="3.72" height="4.71" fill="#424a65"/><rect x="197.8" y="270.54" width="3.72" height="4.71" fill="#424a65"/><rect x="253.24" y="270.54" width="3.72" height="4.71" fill="#424a65"/><rect x="106.72" y="275.48" width="3.72" height="4.71" fill="#424a65"/><rect x="130.48" y="275.48" width="3.72" height="4.71" fill="#424a65"/><rect x="189.88" y="275.48" width="3.72" height="4.71" fill="#424a65"/><rect x="229.48" y="275.48" width="3.72" height="4.71" fill="#424a65"/><rect x="114.64" y="280.43" width="3.72" height="4.71" fill="#424a65"/><rect x="221.56" y="285.38" width="3.72" height="4.71" fill="#424a65"/><rect x="138.4" y="290.32" width="3.72" height="4.71" fill="#424a65"/><rect x="114.64" y="295.27" width="3.72" height="4.71" fill="#424a65"/><rect x="189.88" y="300.22" width="3.72" height="4.71" fill="#424a65"/><rect x="249.28" y="300.22" width="3.72" height="4.71" fill="#424a65"/><rect x="253.24" y="300.22" width="3.72" height="4.71" fill="#424a65"/><rect x="233.44" y="305.17" width="3.72" height="4.71" fill="#424a65"/><rect x="106.72" y="310.11" width="3.72" height="4.71" fill="#424a65"/><rect x="181.96" y="310.11" width="3.72" height="4.71" fill="#424a65"/><rect x="193.84" y="315.06" width="3.72" height="4.71" fill="#424a65"/><rect x="106.72" y="324.95" width="3.72" height="4.71" fill="#424a65"/><rect x="130.48" y="324.95" width="3.72" height="4.71" fill="#424a65"/><rect x="170.08" y="324.95" width="3.72" height="4.71" fill="#424a65"/><rect x="229.48" y="324.95" width="3.72" height="4.71" fill="#424a65"/><rect x="249.28" y="324.95" width="3.72" height="4.71" fill="#424a65"/><rect x="106.72" y="329.9" width="3.72" height="4.71" fill="#424a65"/><rect x="205.72" y="329.9" width="3.72" height="4.71" fill="#424a65"/><rect x="277" y="329.9" width="3.72" height="4.71" fill="#424a65"/><rect x="122.56" y="334.85" width="3.72" height="4.71" fill="#424a65"/><rect x="229.48" y="334.85" width="3.72" height="4.71" fill="#424a65"/><rect x="174.04" y="339.8" width="3.72" height="4.71" fill="#424a65"/><rect x="106.72" y="344.74" width="3.72" height="4.71" fill="#424a65"/><rect x="114.64" y="344.74" width="3.72" height="4.71" fill="#424a65"/><rect x="170.08" y="344.74" width="3.72" height="4.71" fill="#424a65"/><rect x="189.88" y="344.74" width="3.72" height="4.71" fill="#424a65"/><rect x="142.36" y="349.69" width="3.72" height="4.71" fill="#424a65"/><rect x="170.08" y="349.69" width="3.72" height="4.71" fill="#424a65"/><rect x="205.72" y="354.64" width="3.72" height="4.71" fill="#424a65"/><rect x="130.48" y="359.58" width="3.72" height="4.71" fill="#424a65"/><rect x="146.32" y="359.58" width="3.72" height="4.71" fill="#424a65"/><rect x="241.36" y="359.58" width="3.72" height="4.71" fill="#424a65"/><rect x="114.64" y="369.48" width="3.72" height="4.71" fill="#424a65"/><rect x="201.76" y="369.48" width="3.72" height="4.71" fill="#424a65"/><rect x="174.04" y="374.42" width="3.72" height="4.71" fill="#424a65"/><rect x="106.72" y="379.37" width="3.72" height="4.71" fill="#424a65"/><rect x="142.36" y="379.37" width="3.72" height="4.71" fill="#424a65"/><rect x="174.04" y="379.37" width="3.72" height="4.71" fill="#424a65"/><rect x="181.96" y="379.37" width="3.72" height="4.71" fill="#424a65"/><rect x="249.28" y="379.37" width="3.72" height="4.71" fill="#424a65"/><rect x="253.24" y="379.37" width="3.72" height="4.71" fill="#424a65"/><rect x="106.72" y="384.32" width="3.72" height="4.71" fill="#424a65"/><rect x="158.2" y="384.32" width="3.72" height="4.71" fill="#424a65"/><rect x="162.16" y="384.32" width="3.72" height="4.71" fill="#424a65"/><rect x="170.08" y="384.32" width="3.72" height="4.71" fill="#424a65"/><rect x="181.96" y="384.32" width="3.72" height="4.71" fill="#424a65"/><rect x="221.56" y="384.32" width="3.72" height="4.71" fill="#424a65"/><rect x="229.48" y="384.32" width="3.72" height="4.71" fill="#424a65"/><rect x="233.44" y="384.32" width="3.72" height="4.71" fill="#424a65"/><rect x="253.24" y="384.32" width="3.72" height="4.71" fill="#424a65"/><rect x="265.12" y="384.32" width="3.72" height="4.71" fill="#424a65"/><rect x="189.88" y="389.26" width="3.72" height="4.71" fill="#424a65"/><rect x="106.72" y="394.21" width="3.72" height="4.71" fill="#424a65"/><rect x="146.32" y="399.16" width="3.72" height="4.71" fill="#424a65"/><rect x="106.72" y="404.11" width="3.72" height="4.71" fill="#424a65"/><rect x="114.64" y="404.11" width="3.72" height="4.71" fill="#424a65"/><rect x="130.48" y="404.11" width="3.72" height="4.71" fill="#424a65"/><rect x="166.12" y="404.11" width="3.72" height="4.71" fill="#424a65"/><rect x="170.08" y="404.11" width="3.72" height="4.71" fill="#424a65"/><rect x="197.8" y="404.11" width="3.72" height="4.71" fill="#424a65"/><rect x="229.48" y="404.11" width="3.72" height="4.71" fill="#424a65"/><rect x="170.08" y="409.05" width="3.72" height="4.71" fill="#424a65"/><rect x="201.76" y="409.05" width="3.72" height="4.71" fill="#424a65"/><rect x="273.04" y="409.05" width="3.72" height="4.71" fill="#424a65"/><rect x="170.08" y="414" width="3.72" height="4.71" fill="#424a65"/><rect x="249.28" y="414" width="3.72" height="4.71" fill="#424a65"/><rect x="106.72" y="418.95" width="3.72" height="4.71" fill="#424a65"/><rect x="114.64" y="423.89" width="3.72" height="4.71" fill="#424a65"/><rect x="138.4" y="423.89" width="3.72" height="4.71" fill="#424a65"/><rect x="122.56" y="428.84" width="3.72" height="4.71" fill="#424a65"/><rect x="241.36" y="428.84" width="3.72" height="4.71" fill="#424a65"/><rect x="106.72" y="433.79" width="3.72" height="4.71" fill="#424a65"/><rect x="241.36" y="433.79" width="3.72" height="4.71" fill="#424a65"/><rect x="106.72" y="438.74" width="3.72" height="4.71" fill="#424a65"/><rect x="142.36" y="438.74" width="3.72" height="4.71" fill="#424a65"/><rect x="205.72" y="438.74" width="3.72" height="4.71" fill="#424a65"/><rect x="249.28" y="438.74" width="3.72" height="4.71" fill="#424a65"/><rect x="257.2" y="438.74" width="3.72" height="4.71" fill="#424a65"/><rect x="106.72" y="443.68" width="3.72" height="4.71" fill="#424a65"/><rect x="110.68" y="443.68" width="3.72" height="4.71" fill="#424a65"/><rect x="114.64" y="443.68" width="3.72" height="4.71" fill="#424a65"/><rect x="138.4" y="443.68" width="3.72" height="4.71" fill="#424a65"/><rect x="146.32" y="443.68" width="3.72" height="4.71" fill="#424a65"/><rect x="158.2" y="443.68" width="3.72" height="4.71" fill="#424a65"/><rect x="181.96" y="443.68" width="3.72" height="4.71" fill="#424a65"/><rect x="197.8" y="443.68" width="3.72" height="4.71" fill="#424a65"/><rect x="221.56" y="443.68" width="3.72" height="4.71" fill="#424a65"/><rect x="229.48" y="443.68" width="3.72" height="4.71" fill="#424a65"/><rect x="249.28" y="443.68" width="3.72" height="4.71" fill="#424a65"/><rect x="253.24" y="443.68" width="3.72" height="4.71" fill="#424a65"/><rect x="130.48" y="448.63" width="3.72" height="4.71" fill="#424a65"/><rect x="257.2" y="448.63" width="3.72" height="4.71" fill="#424a65"/><rect x="221.56" y="453.58" width="3.72" height="4.71" fill="#424a65"/><rect x="253.24" y="453.58" width="3.72" height="4.71" fill="#424a65"/><rect x="114.64" y="458.52" width="3.72" height="4.71" fill="#424a65"/><rect x="142.36" y="458.52" width="3.72" height="4.71" fill="#424a65"/><rect x="138.4" y="463.47" width="3.72" height="4.71" fill="#424a65"/><rect x="142.36" y="463.47" width="3.72" height="4.71" fill="#424a65"/><rect x="166.12" y="463.47" width="3.72" height="4.71" fill="#424a65"/><rect x="170.08" y="463.47" width="3.72" height="4.71" fill="#424a65"/><rect x="201.76" y="463.47" width="3.72" height="4.71" fill="#424a65"/><rect x="106.72" y="468.42" width="3.72" height="4.71" fill="#424a65"/><rect x="170.08" y="468.42" width="3.72" height="4.71" fill="#424a65"/><rect x="189.88" y="468.42" width="3.72" height="4.71" fill="#424a65"/><rect x="197.8" y="468.42" width="3.72" height="4.71" fill="#424a65"/><rect x="201.76" y="468.42" width="3.72" height="4.71" fill="#424a65"/><rect x="233.44" y="468.42" width="3.72" height="4.71" fill="#424a65"/><rect x="249.28" y="468.42" width="3.72" height="4.71" fill="#424a65"/><rect x="257.2" y="468.42" width="3.72" height="4.71" fill="#424a65"/><rect x="106.72" y="473.36" width="3.72" height="4.71" fill="#424a65"/><rect x="122.56" y="473.36" width="3.72" height="4.71" fill="#424a65"/><rect x="142.36" y="473.36" width="3.72" height="4.71" fill="#424a65"/><rect x="146.32" y="473.36" width="3.72" height="4.71" fill="#424a65"/><rect x="253.24" y="473.36" width="3.72" height="4.71" fill="#424a65"/><rect x="373.43" y="216.12" width="3.72" height="4.71" fill="#424a65"/><rect x="452.63" y="216.12" width="3.72" height="4.71" fill="#424a65"/><rect x="476.39" y="216.12" width="3.72" height="4.71" fill="#424a65"/><rect x="349.67" y="221.07" width="3.72" height="4.71" fill="#424a65"/><rect x="373.43" y="221.07" width="3.72" height="4.71" fill="#424a65"/><rect x="397.19" y="221.07" width="3.72" height="4.71" fill="#424a65"/><rect x="452.63" y="221.07" width="3.72" height="4.71" fill="#424a65"/><rect x="456.59" y="221.07" width="3.72" height="4.71" fill="#424a65"/><rect x="460.55" y="221.07" width="3.72" height="4.71" fill="#424a65"/><rect x="440.75" y="226.01" width="3.72" height="4.71" fill="#424a65"/><rect x="310.07" y="230.96" width="3.72" height="4.71" fill="#424a65"/><rect x="424.91" y="230.96" width="3.72" height="4.71" fill="#424a65"/><rect x="440.75" y="230.96" width="3.72" height="4.71" fill="#424a65"/><rect x="448.67" y="230.96" width="3.72" height="4.71" fill="#424a65"/><rect x="452.63" y="230.96" width="3.72" height="4.71" fill="#424a65"/><rect x="460.55" y="230.96" width="3.72" height="4.71" fill="#424a65"/><rect x="476.39" y="230.96" width="3.72" height="4.71" fill="#424a65"/><rect x="337.79" y="235.91" width="3.72" height="4.71" fill="#424a65"/><rect x="341.75" y="235.91" width="3.72" height="4.71" fill="#424a65"/><rect x="353.63" y="235.91" width="3.72" height="4.71" fill="#424a65"/><rect x="377.39" y="235.91" width="3.72" height="4.71" fill="#424a65"/><rect x="385.31" y="235.91" width="3.72" height="4.71" fill="#424a65"/><rect x="424.91" y="235.91" width="3.72" height="4.71" fill="#424a65"/><rect x="456.59" y="235.91" width="3.72" height="4.71" fill="#424a65"/><rect x="353.63" y="240.86" width="3.72" height="4.71" fill="#424a65"/><rect x="373.43" y="240.86" width="3.72" height="4.71" fill="#424a65"/><rect x="393.23" y="240.86" width="3.72" height="4.71" fill="#424a65"/><rect x="405.11" y="240.86" width="3.72" height="4.71" fill="#424a65"/><rect x="424.91" y="240.86" width="3.72" height="4.71" fill="#424a65"/><rect x="448.67" y="240.86" width="3.72" height="4.71" fill="#424a65"/><rect x="456.59" y="240.86" width="3.72" height="4.71" fill="#424a65"/><rect x="325.91" y="245.8" width="3.72" height="4.71" fill="#424a65"/><rect x="393.23" y="245.8" width="3.72" height="4.71" fill="#424a65"/><rect x="405.11" y="245.8" width="3.72" height="4.71" fill="#424a65"/><rect x="440.75" y="245.8" width="3.72" height="4.71" fill="#424a65"/><rect x="456.59" y="245.8" width="3.72" height="4.71" fill="#424a65"/><rect x="310.07" y="250.75" width="3.72" height="4.71" fill="#424a65"/><rect x="314.03" y="250.75" width="3.72" height="4.71" fill="#424a65"/><rect x="317.99" y="250.75" width="3.72" height="4.71" fill="#424a65"/><rect x="353.63" y="250.75" width="3.72" height="4.71" fill="#424a65"/><rect x="373.43" y="250.75" width="3.72" height="4.71" fill="#424a65"/><rect x="385.31" y="250.75" width="3.72" height="4.71" fill="#424a65"/><rect x="397.19" y="250.75" width="3.72" height="4.71" fill="#424a65"/><rect x="401.15" y="250.75" width="3.72" height="4.71" fill="#424a65"/><rect x="432.83" y="250.75" width="3.72" height="4.71" fill="#424a65"/><rect x="440.75" y="250.75" width="3.72" height="4.71" fill="#424a65"/><rect x="448.67" y="250.75" width="3.72" height="4.71" fill="#424a65"/><rect x="452.63" y="250.75" width="3.72" height="4.71" fill="#424a65"/><rect x="456.59" y="250.75" width="3.72" height="4.71" fill="#424a65"/><rect x="393.23" y="255.7" width="3.72" height="4.71" fill="#424a65"/><rect x="432.83" y="255.7" width="3.72" height="4.71" fill="#424a65"/><rect x="452.63" y="255.7" width="3.72" height="4.71" fill="#424a65"/><rect x="456.59" y="255.7" width="3.72" height="4.71" fill="#424a65"/><rect x="432.83" y="260.64" width="3.72" height="4.71" fill="#424a65"/><rect x="448.67" y="260.64" width="3.72" height="4.71" fill="#424a65"/><rect x="452.63" y="260.64" width="3.72" height="4.71" fill="#424a65"/><rect x="385.31" y="265.59" width="3.72" height="4.71" fill="#424a65"/><rect x="393.23" y="265.59" width="3.72" height="4.71" fill="#424a65"/><rect x="397.19" y="265.59" width="3.72" height="4.71" fill="#424a65"/><rect x="373.43" y="270.54" width="3.72" height="4.71" fill="#424a65"/><rect x="381.35" y="270.54" width="3.72" height="4.71" fill="#424a65"/><rect x="385.31" y="270.54" width="3.72" height="4.71" fill="#424a65"/><rect x="397.19" y="270.54" width="3.72" height="4.71" fill="#424a65"/><rect x="456.59" y="270.54" width="3.72" height="4.71" fill="#424a65"/><rect x="476.39" y="270.54" width="3.72" height="4.71" fill="#424a65"/><rect x="377.39" y="275.48" width="3.72" height="4.71" fill="#424a65"/><rect x="381.35" y="275.48" width="3.72" height="4.71" fill="#424a65"/><rect x="405.11" y="275.48" width="3.72" height="4.71" fill="#424a65"/><rect x="440.75" y="275.48" width="3.72" height="4.71" fill="#424a65"/><rect x="444.71" y="275.48" width="3.72" height="4.71" fill="#424a65"/><rect x="456.59" y="275.48" width="3.72" height="4.71" fill="#424a65"/><rect x="310.07" y="280.43" width="3.72" height="4.71" fill="#424a65"/><rect x="361.55" y="280.43" width="3.72" height="4.71" fill="#424a65"/><rect x="381.35" y="280.43" width="3.72" height="4.71" fill="#424a65"/><rect x="385.31" y="280.43" width="3.72" height="4.71" fill="#424a65"/><rect x="440.75" y="280.43" width="3.72" height="4.71" fill="#424a65"/><rect x="452.63" y="280.43" width="3.72" height="4.71" fill="#424a65"/><rect x="456.59" y="280.43" width="3.72" height="4.71" fill="#424a65"/><rect x="440.75" y="285.38" width="3.72" height="4.71" fill="#424a65"/><rect x="448.67" y="285.38" width="3.72" height="4.71" fill="#424a65"/><rect x="353.63" y="290.32" width="3.72" height="4.71" fill="#424a65"/><rect x="416.99" y="290.32" width="3.72" height="4.71" fill="#424a65"/><rect x="440.75" y="290.32" width="3.72" height="4.71" fill="#424a65"/><rect x="456.59" y="290.32" width="3.72" height="4.71" fill="#424a65"/><rect x="476.39" y="290.32" width="3.72" height="4.71" fill="#424a65"/><rect x="496.19" y="290.32" width="3.72" height="4.71" fill="#424a65"/><rect x="393.23" y="295.27" width="3.72" height="4.71" fill="#424a65"/><rect x="416.99" y="295.27" width="3.72" height="4.71" fill="#424a65"/><rect x="424.91" y="295.27" width="3.72" height="4.71" fill="#424a65"/><rect x="432.83" y="295.27" width="3.72" height="4.71" fill="#424a65"/><rect x="329.87" y="300.22" width="3.72" height="4.71" fill="#424a65"/><rect x="440.75" y="300.22" width="3.72" height="4.71" fill="#424a65"/><rect x="488.27" y="300.22" width="3.72" height="4.71" fill="#424a65"/><rect x="385.31" y="305.17" width="3.72" height="4.71" fill="#424a65"/><rect x="393.23" y="305.17" width="3.72" height="4.71" fill="#424a65"/><rect x="405.11" y="305.17" width="3.72" height="4.71" fill="#424a65"/><rect x="432.83" y="305.17" width="3.72" height="4.71" fill="#424a65"/><rect x="456.59" y="305.17" width="3.72" height="4.71" fill="#424a65"/><rect x="385.31" y="310.11" width="3.72" height="4.71" fill="#424a65"/><rect x="432.83" y="310.11" width="3.72" height="4.71" fill="#424a65"/><rect x="310.07" y="315.06" width="3.72" height="4.71" fill="#424a65"/><rect x="393.23" y="315.06" width="3.72" height="4.71" fill="#424a65"/><rect x="424.91" y="315.06" width="3.72" height="4.71" fill="#424a65"/><rect x="456.59" y="320.01" width="3.72" height="4.71" fill="#424a65"/><rect x="373.43" y="324.95" width="3.72" height="4.71" fill="#424a65"/><rect x="377.39" y="324.95" width="3.72" height="4.71" fill="#424a65"/><rect x="381.35" y="324.95" width="3.72" height="4.71" fill="#424a65"/><rect x="401.15" y="324.95" width="3.72" height="4.71" fill="#424a65"/><rect x="432.83" y="324.95" width="3.72" height="4.71" fill="#424a65"/><rect x="452.63" y="324.95" width="3.72" height="4.71" fill="#424a65"/><rect x="456.59" y="324.95" width="3.72" height="4.71" fill="#424a65"/><rect x="492.23" y="324.95" width="3.72" height="4.71" fill="#424a65"/><rect x="405.11" y="329.9" width="3.72" height="4.71" fill="#424a65"/><rect x="440.75" y="329.9" width="3.72" height="4.71" fill="#424a65"/><rect x="460.55" y="329.9" width="3.72" height="4.71" fill="#424a65"/><rect x="310.07" y="334.85" width="3.72" height="4.71" fill="#424a65"/><rect x="345.71" y="334.85" width="3.72" height="4.71" fill="#424a65"/><rect x="353.63" y="334.85" width="3.72" height="4.71" fill="#424a65"/><rect x="373.43" y="334.85" width="3.72" height="4.71" fill="#424a65"/><rect x="401.15" y="334.85" width="3.72" height="4.71" fill="#424a65"/><rect x="440.75" y="334.85" width="3.72" height="4.71" fill="#424a65"/><rect x="393.23" y="339.8" width="3.72" height="4.71" fill="#424a65"/><rect x="456.59" y="339.8" width="3.72" height="4.71" fill="#424a65"/><rect x="397.19" y="344.74" width="3.72" height="4.71" fill="#424a65"/><rect x="353.63" y="349.69" width="3.72" height="4.71" fill="#424a65"/><rect x="373.43" y="349.69" width="3.72" height="4.71" fill="#424a65"/><rect x="377.39" y="349.69" width="3.72" height="4.71" fill="#424a65"/><rect x="393.23" y="349.69" width="3.72" height="4.71" fill="#424a65"/><rect x="405.11" y="349.69" width="3.72" height="4.71" fill="#424a65"/><rect x="444.71" y="349.69" width="3.72" height="4.71" fill="#424a65"/><rect x="329.87" y="354.64" width="3.72" height="4.71" fill="#424a65"/><rect x="373.43" y="354.64" width="3.72" height="4.71" fill="#424a65"/><rect x="310.07" y="359.58" width="3.72" height="4.71" fill="#424a65"/><rect x="349.67" y="359.58" width="3.72" height="4.71" fill="#424a65"/><rect x="377.39" y="359.58" width="3.72" height="4.71" fill="#424a65"/><rect x="405.11" y="359.58" width="3.72" height="4.71" fill="#424a65"/><rect x="440.75" y="359.58" width="3.72" height="4.71" fill="#424a65"/><rect x="448.67" y="359.58" width="3.72" height="4.71" fill="#424a65"/><rect x="460.55" y="359.58" width="3.72" height="4.71" fill="#424a65"/><rect x="381.35" y="364.53" width="3.72" height="4.71" fill="#424a65"/><rect x="484.31" y="364.53" width="3.72" height="4.71" fill="#424a65"/><rect x="397.19" y="369.48" width="3.72" height="4.71" fill="#424a65"/><rect x="432.83" y="369.48" width="3.72" height="4.71" fill="#424a65"/><rect x="448.67" y="369.48" width="3.72" height="4.71" fill="#424a65"/><rect x="456.59" y="369.48" width="3.72" height="4.71" fill="#424a65"/><rect x="329.87" y="374.42" width="3.72" height="4.71" fill="#424a65"/><rect x="325.91" y="379.37" width="3.72" height="4.71" fill="#424a65"/><rect x="377.39" y="379.37" width="3.72" height="4.71" fill="#424a65"/><rect x="381.35" y="379.37" width="3.72" height="4.71" fill="#424a65"/><rect x="432.83" y="379.37" width="3.72" height="4.71" fill="#424a65"/><rect x="444.71" y="379.37" width="3.72" height="4.71" fill="#424a65"/><rect x="452.63" y="379.37" width="3.72" height="4.71" fill="#424a65"/><rect x="456.59" y="379.37" width="3.72" height="4.71" fill="#424a65"/><rect x="492.23" y="379.37" width="3.72" height="4.71" fill="#424a65"/><rect x="310.07" y="384.32" width="3.72" height="4.71" fill="#424a65"/><rect x="333.83" y="384.32" width="3.72" height="4.71" fill="#424a65"/><rect x="353.63" y="384.32" width="3.72" height="4.71" fill="#424a65"/><rect x="373.43" y="384.32" width="3.72" height="4.71" fill="#424a65"/><rect x="377.39" y="384.32" width="3.72" height="4.71" fill="#424a65"/><rect x="381.35" y="384.32" width="3.72" height="4.71" fill="#424a65"/><rect x="385.31" y="384.32" width="3.72" height="4.71" fill="#424a65"/><rect x="393.23" y="384.32" width="3.72" height="4.71" fill="#424a65"/><rect x="401.15" y="384.32" width="3.72" height="4.71" fill="#424a65"/><rect x="405.11" y="384.32" width="3.72" height="4.71" fill="#424a65"/><rect x="416.99" y="384.32" width="3.72" height="4.71" fill="#424a65"/><rect x="432.83" y="384.32" width="3.72" height="4.71" fill="#424a65"/><rect x="448.67" y="384.32" width="3.72" height="4.71" fill="#424a65"/><rect x="488.27" y="384.32" width="3.72" height="4.71" fill="#424a65"/><rect x="492.23" y="384.32" width="3.72" height="4.71" fill="#424a65"/><rect x="377.39" y="389.26" width="3.72" height="4.71" fill="#424a65"/><rect x="452.63" y="389.26" width="3.72" height="4.71" fill="#424a65"/><rect x="456.59" y="389.26" width="3.72" height="4.71" fill="#424a65"/><rect x="393.23" y="399.16" width="3.72" height="4.71" fill="#424a65"/><rect x="416.99" y="399.16" width="3.72" height="4.71" fill="#424a65"/><rect x="452.63" y="399.16" width="3.72" height="4.71" fill="#424a65"/><rect x="341.75" y="404.11" width="3.72" height="4.71" fill="#424a65"/><rect x="373.43" y="404.11" width="3.72" height="4.71" fill="#424a65"/><rect x="432.83" y="404.11" width="3.72" height="4.71" fill="#424a65"/><rect x="456.59" y="404.11" width="3.72" height="4.71" fill="#424a65"/><rect x="492.23" y="404.11" width="3.72" height="4.71" fill="#424a65"/><rect x="373.43" y="409.05" width="3.72" height="4.71" fill="#424a65"/><rect x="377.39" y="409.05" width="3.72" height="4.71" fill="#424a65"/><rect x="381.35" y="409.05" width="3.72" height="4.71" fill="#424a65"/><rect x="393.23" y="409.05" width="3.72" height="4.71" fill="#424a65"/><rect x="397.19" y="409.05" width="3.72" height="4.71" fill="#424a65"/><rect x="432.83" y="409.05" width="3.72" height="4.71" fill="#424a65"/><rect x="444.71" y="409.05" width="3.72" height="4.71" fill="#424a65"/><rect x="448.67" y="409.05" width="3.72" height="4.71" fill="#424a65"/><rect x="488.27" y="409.05" width="3.72" height="4.71" fill="#424a65"/><rect x="492.23" y="409.05" width="3.72" height="4.71" fill="#424a65"/><rect x="456.59" y="414" width="3.72" height="4.71" fill="#424a65"/><rect x="385.31" y="418.95" width="3.72" height="4.71" fill="#424a65"/><rect x="353.63" y="423.89" width="3.72" height="4.71" fill="#424a65"/><rect x="373.43" y="423.89" width="3.72" height="4.71" fill="#424a65"/><rect x="405.11" y="423.89" width="3.72" height="4.71" fill="#424a65"/><rect x="432.83" y="423.89" width="3.72" height="4.71" fill="#424a65"/><rect x="440.75" y="423.89" width="3.72" height="4.71" fill="#424a65"/><rect x="353.63" y="428.84" width="3.72" height="4.71" fill="#424a65"/><rect x="381.35" y="428.84" width="3.72" height="4.71" fill="#424a65"/><rect x="393.23" y="428.84" width="3.72" height="4.71" fill="#424a65"/><rect x="397.19" y="428.84" width="3.72" height="4.71" fill="#424a65"/><rect x="413.03" y="428.84" width="3.72" height="4.71" fill="#424a65"/><rect x="452.63" y="428.84" width="3.72" height="4.71" fill="#424a65"/><rect x="456.59" y="428.84" width="3.72" height="4.71" fill="#424a65"/><rect x="468.47" y="428.84" width="3.72" height="4.71" fill="#424a65"/><rect x="476.39" y="428.84" width="3.72" height="4.71" fill="#424a65"/><rect x="405.11" y="433.79" width="3.72" height="4.71" fill="#424a65"/><rect x="440.75" y="433.79" width="3.72" height="4.71" fill="#424a65"/><rect x="353.63" y="438.74" width="3.72" height="4.71" fill="#424a65"/><rect x="416.99" y="438.74" width="3.72" height="4.71" fill="#424a65"/><rect x="310.07" y="443.68" width="3.72" height="4.71" fill="#424a65"/><rect x="317.99" y="443.68" width="3.72" height="4.71" fill="#424a65"/><rect x="353.63" y="443.68" width="3.72" height="4.71" fill="#424a65"/><rect x="365.51" y="443.68" width="3.72" height="4.71" fill="#424a65"/><rect x="373.43" y="443.68" width="3.72" height="4.71" fill="#424a65"/><rect x="381.35" y="443.68" width="3.72" height="4.71" fill="#424a65"/><rect x="385.31" y="443.68" width="3.72" height="4.71" fill="#424a65"/><rect x="393.23" y="443.68" width="3.72" height="4.71" fill="#424a65"/><rect x="424.91" y="443.68" width="3.72" height="4.71" fill="#424a65"/><rect x="432.83" y="443.68" width="3.72" height="4.71" fill="#424a65"/><rect x="440.75" y="443.68" width="3.72" height="4.71" fill="#424a65"/><rect x="444.71" y="443.68" width="3.72" height="4.71" fill="#424a65"/><rect x="452.63" y="443.68" width="3.72" height="4.71" fill="#424a65"/><rect x="456.59" y="443.68" width="3.72" height="4.71" fill="#424a65"/><rect x="472.43" y="443.68" width="3.72" height="4.71" fill="#424a65"/><rect x="476.39" y="443.68" width="3.72" height="4.71" fill="#424a65"/><rect x="353.63" y="448.63" width="3.72" height="4.71" fill="#424a65"/><rect x="373.43" y="448.63" width="3.72" height="4.71" fill="#424a65"/><rect x="405.11" y="448.63" width="3.72" height="4.71" fill="#424a65"/><rect x="432.83" y="448.63" width="3.72" height="4.71" fill="#424a65"/><rect x="440.75" y="448.63" width="3.72" height="4.71" fill="#424a65"/><rect x="448.67" y="448.63" width="3.72" height="4.71" fill="#424a65"/><rect x="452.63" y="448.63" width="3.72" height="4.71" fill="#424a65"/><rect x="456.59" y="448.63" width="3.72" height="4.71" fill="#424a65"/><rect x="492.23" y="448.63" width="3.72" height="4.71" fill="#424a65"/><rect x="310.07" y="453.58" width="3.72" height="4.71" fill="#424a65"/><rect x="385.31" y="453.58" width="3.72" height="4.71" fill="#424a65"/><rect x="397.19" y="453.58" width="3.72" height="4.71" fill="#424a65"/><rect x="432.83" y="453.58" width="3.72" height="4.71" fill="#424a65"/><rect x="452.63" y="453.58" width="3.72" height="4.71" fill="#424a65"/><rect x="456.59" y="453.58" width="3.72" height="4.71" fill="#424a65"/><rect x="488.27" y="453.58" width="3.72" height="4.71" fill="#424a65"/><rect x="381.35" y="458.52" width="3.72" height="4.71" fill="#424a65"/><rect x="393.23" y="458.52" width="3.72" height="4.71" fill="#424a65"/><rect x="444.71" y="458.52" width="3.72" height="4.71" fill="#424a65"/><rect x="500.15" y="458.52" width="3.72" height="4.71" fill="#424a65"/><rect x="341.75" y="463.47" width="3.72" height="4.71" fill="#424a65"/><rect x="353.63" y="463.47" width="3.72" height="4.71" fill="#424a65"/><rect x="373.43" y="463.47" width="3.72" height="4.71" fill="#424a65"/><rect x="385.31" y="463.47" width="3.72" height="4.71" fill="#424a65"/><rect x="393.23" y="463.47" width="3.72" height="4.71" fill="#424a65"/><rect x="405.11" y="463.47" width="3.72" height="4.71" fill="#424a65"/><rect x="432.83" y="463.47" width="3.72" height="4.71" fill="#424a65"/><rect x="456.59" y="463.47" width="3.72" height="4.71" fill="#424a65"/><rect x="476.39" y="463.47" width="3.72" height="4.71" fill="#424a65"/><rect x="377.39" y="468.42" width="3.72" height="4.71" fill="#424a65"/><rect x="381.35" y="468.42" width="3.72" height="4.71" fill="#424a65"/><rect x="440.75" y="468.42" width="3.72" height="4.71" fill="#424a65"/><rect x="452.63" y="468.42" width="3.72" height="4.71" fill="#424a65"/><rect x="456.59" y="468.42" width="3.72" height="4.71" fill="#424a65"/><rect x="460.55" y="468.42" width="3.72" height="4.71" fill="#424a65"/><rect x="310.07" y="473.36" width="3.72" height="4.71" fill="#424a65"/><rect x="377.39" y="473.36" width="3.72" height="4.71" fill="#424a65"/><rect x="385.31" y="473.36" width="3.72" height="4.71" fill="#424a65"/><rect x="397.19" y="473.36" width="3.72" height="4.71" fill="#424a65"/><rect x="424.91" y="473.36" width="3.72" height="4.71" fill="#424a65"/><rect x="448.67" y="473.36" width="3.72" height="4.71" fill="#424a65"/><line x1="106.6" y1="211.2" x2="309.95" y2="211.2" stroke="#d0d0d0" stroke-width="0.6"/><line x1="309.95" y1="211.2" x2="503.99" y2="211.2" stroke="#d0d0d0" stroke-width="0.6"/><text x="305.29" y="214.8" text-anchor="middle" font-family="Liberation Sans" font-size="4.3" fill="#555">%</text><text x="509.6" y="215" text-anchor="middle" font-family="Liberation Sans" font-style="italic" font-size="4.4" fill="#666">%</text><text x="305.49" y="220.07" text-anchor="middle" font-family="Liberation Sans" font-size="4.6" fill="#4a4a4a">50</text><text x="509.6" y="220.02" text-anchor="middle" font-family="Liberation Sans" font-style="italic" font-size="4.4" fill="#666">50</text><text x="305.49" y="225.02" text-anchor="middle" font-family="Liberation Sans" font-size="4.6" fill="#4a4a4a">45</text><text x="509.6" y="224.97" text-anchor="middle" font-family="Liberation Sans" font-style="italic" font-size="4.4" fill="#666">55</text><text x="305.49" y="229.97" text-anchor="middle" font-family="Liberation Sans" font-size="4.6" fill="#4a4a4a">83</text><text x="509.6" y="229.92" text-anchor="middle" font-family="Liberation Sans" font-style="italic" font-size="4.4" fill="#666">17</text><text x="305.49" y="234.91" text-anchor="middle" font-family="Liberation Sans" font-size="4.6" fill="#4a4a4a">36</text><text x="509.6" y="234.86" text-anchor="middle" font-family="Liberation Sans" font-style="italic" font-size="4.4" fill="#666">64</text><text x="305.49" y="239.86" text-anchor="middle" font-family="Liberation Sans" font-size="4.6" fill="#4a4a4a">50</text><text x="509.6" y="239.81" text-anchor="middle" font-family="Liberation Sans" font-style="italic" font-size="4.4" fill="#666">50</text><text x="305.49" y="244.81" text-anchor="middle" font-family="Liberation Sans" font-size="4.6" fill="#4a4a4a">0</text><text x="509.6" y="244.76" text-anchor="middle" font-family="Liberation Sans" font-style="italic" font-size="4.4" fill="#666">100</text><text x="305.49" y="249.76" text-anchor="middle" font-family="Liberation Sans" font-size="4.6" fill="#4a4a4a">55</text><text x="509.6" y="249.71" text-anchor="middle" font-family="Liberation Sans" font-style="italic" font-size="4.4" fill="#666">45</text><text x="305.49" y="254.7" text-anchor="middle" font-family="Liberation Sans" font-size="4.6" fill="#4a4a4a">13</text><text x="509.6" y="254.65" text-anchor="middle" font-family="Liberation Sans" font-style="italic" font-size="4.4" fill="#666">87</text><text x="305.49" y="259.65" text-anchor="middle" font-family="Liberation Sans" font-size="4.6" fill="#4a4a4a">33</text><text x="509.6" y="259.6" text-anchor="middle" font-family="Liberation Sans" font-style="italic" font-size="4.4" fill="#666">67</text><text x="305.49" y="264.6" text-anchor="middle" font-family="Liberation Sans" font-size="4.6" fill="#4a4a4a">40</text><text x="509.6" y="264.55" text-anchor="middle" font-family="Liberation Sans" font-style="italic" font-size="4.4" fill="#666">60</text><text x="305.49" y="269.54" text-anchor="middle" font-family="Liberation Sans" font-size="4.6" fill="#4a4a4a">25</text><text x="509.6" y="269.49" text-anchor="middle" font-family="Liberation Sans" font-style="italic" font-size="4.4" fill="#666">75</text><text x="305.49" y="274.49" text-anchor="middle" font-family="Liberation Sans" font-size="4.6" fill="#4a4a4a">45</text><text x="509.6" y="274.44" text-anchor="middle" font-family="Liberation Sans" font-style="italic" font-size="4.4" fill="#666">55</text><text x="305.49" y="279.44" text-anchor="middle" font-family="Liberation Sans" font-size="4.6" fill="#4a4a4a">33</text><text x="509.6" y="279.39" text-anchor="middle" font-family="Liberation Sans" font-style="italic" font-size="4.4" fill="#666">67</text><text x="305.49" y="284.38" text-anchor="middle" font-family="Liberation Sans" font-size="4.6" fill="#4a4a4a">13</text><text x="509.6" y="284.33" text-anchor="middle" font-family="Liberation Sans" font-style="italic" font-size="4.4" fill="#666">87</text><text x="305.49" y="289.33" text-anchor="middle" font-family="Liberation Sans" font-size="4.6" fill="#4a4a4a">33</text><text x="509.6" y="289.28" text-anchor="middle" font-family="Liberation Sans" font-style="italic" font-size="4.4" fill="#666">67</text><text x="305.49" y="294.28" text-anchor="middle" font-family="Liberation Sans" font-size="4.6" fill="#4a4a4a">14</text><text x="509.6" y="294.23" text-anchor="middle" font-family="Liberation Sans" font-style="italic" font-size="4.4" fill="#666">86</text><text x="305.49" y="299.23" text-anchor="middle" font-family="Liberation Sans" font-size="4.6" fill="#4a4a4a">20</text><text x="509.6" y="299.18" text-anchor="middle" font-family="Liberation Sans" font-style="italic" font-size="4.4" fill="#666">80</text><text x="305.49" y="304.17" text-anchor="middle" font-family="Liberation Sans" font-size="4.6" fill="#4a4a4a">50</text><text x="509.6" y="304.12" text-anchor="middle" font-family="Liberation Sans" font-style="italic" font-size="4.4" fill="#666">50</text><text x="305.49" y="309.12" text-anchor="middle" font-family="Liberation Sans" font-size="4.6" fill="#4a4a4a">17</text><text x="509.6" y="309.07" text-anchor="middle" font-family="Liberation Sans" font-style="italic" font-size="4.4" fill="#666">83</text><text x="305.49" y="314.07" text-anchor="middle" font-family="Liberation Sans" font-size="4.6" fill="#4a4a4a">50</text><text x="509.6" y="314.02" text-anchor="middle" font-family="Liberation Sans" font-style="italic" font-size="4.4" fill="#666">50</text><text x="305.49" y="319.01" text-anchor="middle" font-family="Liberation Sans" font-size="4.6" fill="#4a4a4a">25</text><text x="509.6" y="318.96" text-anchor="middle" font-family="Liberation Sans" font-style="italic" font-size="4.4" fill="#666">75</text><text x="305.49" y="323.96" text-anchor="middle" font-family="Liberation Sans" font-size="4.6" fill="#4a4a4a">0</text><text x="509.6" y="323.91" text-anchor="middle" font-family="Liberation Sans" font-style="italic" font-size="4.4" fill="#666">100</text><text x="305.49" y="328.91" text-anchor="middle" font-family="Liberation Sans" font-size="4.6" fill="#4a4a4a">38</text><text x="509.6" y="328.86" text-anchor="middle" font-family="Liberation Sans" font-style="italic" font-size="4.4" fill="#666">62</text><text x="305.49" y="333.85" text-anchor="middle" font-family="Liberation Sans" font-size="4.6" fill="#4a4a4a">50</text><text x="509.6" y="333.8" text-anchor="middle" font-family="Liberation Sans" font-style="italic" font-size="4.4" fill="#666">50</text><text x="305.49" y="338.8" text-anchor="middle" font-family="Liberation Sans" font-size="4.6" fill="#4a4a4a">25</text><text x="509.6" y="338.75" text-anchor="middle" font-family="Liberation Sans" font-style="italic" font-size="4.4" fill="#666">75</text><text x="305.49" y="343.75" text-anchor="middle" font-family="Liberation Sans" font-size="4.6" fill="#4a4a4a">33</text><text x="509.6" y="343.7" text-anchor="middle" font-family="Liberation Sans" font-style="italic" font-size="4.4" fill="#666">67</text><text x="305.49" y="348.7" text-anchor="middle" font-family="Liberation Sans" font-size="4.6" fill="#4a4a4a">80</text><text x="509.6" y="348.65" text-anchor="middle" font-family="Liberation Sans" font-style="italic" font-size="4.4" fill="#666">20</text><text x="305.49" y="353.64" text-anchor="middle" font-family="Liberation Sans" font-size="4.6" fill="#4a4a4a">25</text><text x="509.6" y="353.59" text-anchor="middle" font-family="Liberation Sans" font-style="italic" font-size="4.4" fill="#666">75</text><text x="305.49" y="358.59" text-anchor="middle" font-family="Liberation Sans" font-size="4.6" fill="#4a4a4a">33</text><text x="509.6" y="358.54" text-anchor="middle" font-family="Liberation Sans" font-style="italic" font-size="4.4" fill="#666">67</text><text x="305.49" y="363.54" text-anchor="middle" font-family="Liberation Sans" font-size="4.6" fill="#4a4a4a">30</text><text x="509.6" y="363.49" text-anchor="middle" font-family="Liberation Sans" font-style="italic" font-size="4.4" fill="#666">70</text><text x="305.49" y="368.48" text-anchor="middle" font-family="Liberation Sans" font-size="4.6" fill="#4a4a4a">0</text><text x="509.6" y="368.43" text-anchor="middle" font-family="Liberation Sans" font-style="italic" font-size="4.4" fill="#666">100</text><text x="305.49" y="373.43" text-anchor="middle" font-family="Liberation Sans" font-size="4.6" fill="#4a4a4a">33</text><text x="509.6" y="373.38" text-anchor="middle" font-family="Liberation Sans" font-style="italic" font-size="4.4" fill="#666">67</text><text x="305.49" y="378.38" text-anchor="middle" font-family="Liberation Sans" font-size="4.6" fill="#4a4a4a">50</text><text x="509.6" y="378.33" text-anchor="middle" font-family="Liberation Sans" font-style="italic" font-size="4.4" fill="#666">50</text><text x="305.49" y="383.32" text-anchor="middle" font-family="Liberation Sans" font-size="4.6" fill="#4a4a4a">43</text><text x="509.6" y="383.27" text-anchor="middle" font-family="Liberation Sans" font-style="italic" font-size="4.4" fill="#666">57</text><text x="305.49" y="388.27" text-anchor="middle" font-family="Liberation Sans" font-size="4.6" fill="#4a4a4a">40</text><text x="509.6" y="388.22" text-anchor="middle" font-family="Liberation Sans" font-style="italic" font-size="4.4" fill="#666">60</text><text x="305.49" y="393.22" text-anchor="middle" font-family="Liberation Sans" font-size="4.6" fill="#4a4a4a">25</text><text x="509.6" y="393.17" text-anchor="middle" font-family="Liberation Sans" font-style="italic" font-size="4.4" fill="#666">75</text><text x="305.49" y="398.17" text-anchor="middle" font-family="Liberation Sans" font-size="4.6" fill="#4a4a4a">100</text><text x="509.6" y="398.12" text-anchor="middle" font-family="Liberation Sans" font-style="italic" font-size="4.4" fill="#666">0</text><text x="305.49" y="403.11" text-anchor="middle" font-family="Liberation Sans" font-size="4.6" fill="#4a4a4a">25</text><text x="509.6" y="403.06" text-anchor="middle" font-family="Liberation Sans" font-style="italic" font-size="4.4" fill="#666">75</text><text x="305.49" y="408.06" text-anchor="middle" font-family="Liberation Sans" font-size="4.6" fill="#4a4a4a">58</text><text x="509.6" y="408.01" text-anchor="middle" font-family="Liberation Sans" font-style="italic" font-size="4.4" fill="#666">42</text><text x="305.49" y="413.01" text-anchor="middle" font-family="Liberation Sans" font-size="4.6" fill="#4a4a4a">23</text><text x="509.6" y="412.96" text-anchor="middle" font-family="Liberation Sans" font-style="italic" font-size="4.4" fill="#666">77</text><text x="305.49" y="417.95" text-anchor="middle" font-family="Liberation Sans" font-size="4.6" fill="#4a4a4a">67</text><text x="509.6" y="417.9" text-anchor="middle" font-family="Liberation Sans" font-style="italic" font-size="4.4" fill="#666">33</text><text x="305.49" y="422.9" text-anchor="middle" font-family="Liberation Sans" font-size="4.6" fill="#4a4a4a">100</text><text x="509.6" y="422.85" text-anchor="middle" font-family="Liberation Sans" font-style="italic" font-size="4.4" fill="#666">0</text><text x="305.49" y="427.85" text-anchor="middle" font-family="Liberation Sans" font-size="4.6" fill="#4a4a4a">29</text><text x="509.6" y="427.8" text-anchor="middle" font-family="Liberation Sans" font-style="italic" font-size="4.4" fill="#666">71</text><text x="305.49" y="432.79" text-anchor="middle" font-family="Liberation Sans" font-size="4.6" fill="#4a4a4a">18</text><text x="509.6" y="432.74" text-anchor="middle" font-family="Liberation Sans" font-style="italic" font-size="4.4" fill="#666">82</text><text x="305.49" y="437.74" text-anchor="middle" font-family="Liberation Sans" font-size="4.6" fill="#4a4a4a">50</text><text x="509.6" y="437.69" text-anchor="middle" font-family="Liberation Sans" font-style="italic" font-size="4.4" fill="#666">50</text><text x="305.49" y="442.69" text-anchor="middle" font-family="Liberation Sans" font-size="4.6" fill="#4a4a4a">71</text><text x="509.6" y="442.64" text-anchor="middle" font-family="Liberation Sans" font-style="italic" font-size="4.4" fill="#666">29</text><text x="305.49" y="447.64" text-anchor="middle" font-family="Liberation Sans" font-size="4.6" fill="#4a4a4a">43</text><text x="509.6" y="447.59" text-anchor="middle" font-family="Liberation Sans" font-style="italic" font-size="4.4" fill="#666">57</text><text x="305.49" y="452.58" text-anchor="middle" font-family="Liberation Sans" font-size="4.6" fill="#4a4a4a">18</text><text x="509.6" y="452.53" text-anchor="middle" font-family="Liberation Sans" font-style="italic" font-size="4.4" fill="#666">82</text><text x="305.49" y="457.53" text-anchor="middle" font-family="Liberation Sans" font-size="4.6" fill="#4a4a4a">22</text><text x="509.6" y="457.48" text-anchor="middle" font-family="Liberation Sans" font-style="italic" font-size="4.4" fill="#666">78</text><text x="305.49" y="462.48" text-anchor="middle" font-family="Liberation Sans" font-size="4.6" fill="#4a4a4a">33</text><text x="509.6" y="462.43" text-anchor="middle" font-family="Liberation Sans" font-style="italic" font-size="4.4" fill="#666">67</text><text x="305.49" y="467.42" text-anchor="middle" font-family="Liberation Sans" font-size="4.6" fill="#4a4a4a">36</text><text x="509.6" y="467.37" text-anchor="middle" font-family="Liberation Sans" font-style="italic" font-size="4.4" fill="#666">64</text><text x="305.49" y="472.37" text-anchor="middle" font-family="Liberation Sans" font-size="4.6" fill="#4a4a4a">57</text><text x="509.6" y="472.32" text-anchor="middle" font-family="Liberation Sans" font-style="italic" font-size="4.4" fill="#666">43</text><text x="305.49" y="477.32" text-anchor="middle" font-family="Liberation Sans" font-size="4.6" fill="#4a4a4a">45</text><text x="509.6" y="477.27" text-anchor="middle" font-family="Liberation Sans" font-style="italic" font-size="4.4" fill="#666">55</text><text x="85.0" y="219.92" font-family="Liberation Sans" font-style="italic" font-size="4.15" fill="#5b9bd5">CDK12</text><text x="85.0" y="224.87" font-family="Liberation Sans" font-style="italic" font-size="4.15" fill="#5b9bd5">EP300</text><text x="85.0" y="229.82" font-family="Liberation Sans" font-style="italic" font-size="4.15" fill="#1e1e1e">KMT2D</text><text x="85.0" y="234.76" font-family="Liberation Sans" font-style="italic" font-size="4.15" fill="#1e1e1e">ARID1A</text><text x="85.0" y="239.71" font-family="Liberation Sans" font-style="italic" font-size="4.15" fill="#1e1e1e">TRRAP</text><text x="85.0" y="244.66" font-family="Liberation Sans" font-style="italic" font-size="4.15" fill="#1e1e1e">KMT2C</text><text x="85.0" y="249.61" font-family="Liberation Sans" font-style="italic" font-size="4.15" fill="#1e1e1e">DNMT3A</text><text x="85.0" y="254.55" font-family="Liberation Sans" font-style="italic" font-size="4.15" fill="#1e1e1e">TET2</text><text x="85.0" y="259.5" font-family="Liberation Sans" font-style="italic" font-size="4.15" fill="#1e1e1e">NCOR1</text><text x="85.0" y="264.45" font-family="Liberation Sans" font-style="italic" font-size="4.15" fill="#1e1e1e">CTCF</text><text x="85.0" y="269.39" font-family="Liberation Sans" font-style="italic" font-size="4.15" fill="#1e1e1e">SETDB2</text><text x="85.0" y="274.34" font-family="Liberation Sans" font-style="italic" font-size="4.15" fill="#5b9bd5">CHD4</text><text x="85.0" y="279.29" font-family="Liberation Sans" font-style="italic" font-size="4.15" fill="#1e1e1e">ARHGEF3</text><text x="85.0" y="284.23" font-family="Liberation Sans" font-style="italic" font-size="4.15" fill="#1e1e1e">ZEB1</text><text x="85.0" y="289.18" font-family="Liberation Sans" font-style="italic" font-size="4.15" fill="#1e1e1e">RHOA</text><text x="85.0" y="294.13" font-family="Liberation Sans" font-style="italic" font-size="4.15" fill="#1e1e1e">ATM</text><text x="85.0" y="299.08" font-family="Liberation Sans" font-style="italic" font-size="4.15" fill="#1e1e1e">PLCG1</text><text x="85.0" y="304.02" font-family="Liberation Sans" font-style="italic" font-size="4.15" fill="#1e1e1e">POT1</text><text x="85.0" y="308.97" font-family="Liberation Sans" font-style="italic" font-size="4.15" fill="#5b9bd5">PDS5B</text><text x="85.0" y="313.92" font-family="Liberation Sans" font-style="italic" font-size="4.15" fill="#1e1e1e">LATS1</text><text x="85.0" y="318.86" font-family="Liberation Sans" font-style="italic" font-size="4.15" fill="#1e1e1e">TNFRSF13B</text><text x="85.0" y="323.81" font-family="Liberation Sans" font-style="italic" font-size="4.15" fill="#1e1e1e">RFXAP</text><text x="85.0" y="328.76" font-family="Liberation Sans" font-style="italic" font-size="4.15" fill="#1e1e1e">JAK1</text><text x="85.0" y="333.7" font-family="Liberation Sans" font-style="italic" font-size="4.15" fill="#1e1e1e">STAT5B</text><text x="85.0" y="338.65" font-family="Liberation Sans" font-style="italic" font-size="4.15" fill="#1e1e1e">STAT3</text><text x="85.0" y="343.6" font-family="Liberation Sans" font-style="italic" font-size="4.15" fill="#1e1e1e">JAK2</text><text x="85.0" y="348.55" font-family="Liberation Sans" font-style="italic" font-size="4.15" fill="#1e1e1e">BRAF</text><text x="85.0" y="353.49" font-family="Liberation Sans" font-style="italic" font-size="4.15" fill="#1e1e1e">MAP2K1</text><text x="85.0" y="358.44" font-family="Liberation Sans" font-style="italic" font-size="4.15" fill="#1e1e1e">NRAS</text><text x="85.0" y="363.39" font-family="Liberation Sans" font-style="italic" font-size="4.15" fill="#5b9bd5">ALK</text><text x="85.0" y="368.33" font-family="Liberation Sans" font-style="italic" font-size="4.15" fill="#1e1e1e">TNFAIP3</text><text x="85.0" y="373.28" font-family="Liberation Sans" font-style="italic" font-size="4.15" fill="#1e1e1e">PRKCB</text><text x="85.0" y="378.23" font-family="Liberation Sans" font-style="italic" font-size="4.15" fill="#1e1e1e">NFKB2</text><text x="85.0" y="383.17" font-family="Liberation Sans" font-style="italic" font-size="4.15" fill="#5b9bd5">NOTCH3</text><text x="85.0" y="388.12" font-family="Liberation Sans" font-style="italic" font-size="4.15" fill="#5b9bd5">PTPRD</text><text x="85.0" y="393.07" font-family="Liberation Sans" font-style="italic" font-size="4.15" fill="#1e1e1e">PIK3R1</text><text x="85.0" y="398.02" font-family="Liberation Sans" font-style="italic" font-size="4.15" fill="#5b9bd5">PIK3CB</text><text x="85.0" y="402.96" font-family="Liberation Sans" font-style="italic" font-size="4.15" fill="#5b9bd5">INPPL1</text><text x="85.0" y="407.91" font-family="Liberation Sans" font-style="italic" font-size="4.15" fill="#5b9bd5">MTOR</text><text x="85.0" y="412.86" font-family="Liberation Sans" font-style="italic" font-size="4.15" fill="#5b9bd5">DICER1</text><text x="85.0" y="417.8" font-family="Liberation Sans" font-style="italic" font-size="4.15" fill="#1e1e1e">NF1</text><text x="85.0" y="422.75" font-family="Liberation Sans" font-style="italic" font-size="4.15" fill="#5b9bd5">ERBB3</text><text x="85.0" y="427.7" font-family="Liberation Sans" font-style="italic" font-size="4.15" fill="#1e1e1e">PRKCQ</text><text x="85.0" y="432.64" font-family="Liberation Sans" font-style="italic" font-size="4.15" fill="#1e1e1e">PRKD1</text><text x="85.0" y="437.59" font-family="Liberation Sans" font-style="italic" font-size="4.15" fill="#1e1e1e">CD28</text><text x="85.0" y="442.54" font-family="Liberation Sans" font-style="italic" font-size="4.15" fill="#1e1e1e">RARA</text><text x="85.0" y="447.49" font-family="Liberation Sans" font-style="italic" font-size="4.15" fill="#5b9bd5">ZFHX3</text><text x="85.0" y="452.43" font-family="Liberation Sans" font-style="italic" font-size="4.15" fill="#5b9bd5">PAX5</text><text x="85.0" y="457.38" font-family="Liberation Sans" font-style="italic" font-size="4.15" fill="#5b9bd5">ZBTB20</text><text x="85.0" y="462.33" font-family="Liberation Sans" font-style="italic" font-size="4.15" fill="#1e1e1e">MECOM</text><text x="85.0" y="467.27" font-family="Liberation Sans" font-style="italic" font-size="4.15" fill="#5b9bd5">MACF1</text><text x="85.0" y="472.22" font-family="Liberation Sans" font-style="italic" font-size="4.15" fill="#5b9bd5">PTCH1</text><text x="85.0" y="477.17" font-family="Liberation Sans" font-style="italic" font-size="4.15" fill="#5b9bd5">RNF43</text><rect x="78.6" y="216.1" width="3.0" height="2.8" fill="#f3e9a8"/><rect x="78.6" y="219.9" width="3.0" height="53.4" fill="#d46a6e"/><rect x="78.6" y="274.4" width="3.0" height="14.4" fill="#f2cd62"/><rect x="78.6" y="289.7" width="3.0" height="13.5" fill="#8cbb4e"/><rect x="78.6" y="304.0" width="3.0" height="4.9" fill="#a674c4"/><rect x="78.6" y="309.9" width="3.0" height="4.1" fill="#444444"/><rect x="78.6" y="315.0" width="3.0" height="11.2" fill="#a9d3f2"/><rect x="78.6" y="327.2" width="3.0" height="15.4" fill="#c9e0b4"/><rect x="78.6" y="343.6" width="3.0" height="19.7" fill="#c9577a"/><rect x="78.6" y="364.3" width="3.0" height="14.5" fill="#b3b6e2"/><rect x="78.6" y="379.9" width="3.0" height="4.6" fill="#3f6a8c"/><rect x="78.6" y="385.5" width="3.0" height="3.8" fill="#6e0a48"/><rect x="78.6" y="390.5" width="3.0" height="18.1" fill="#5fa13a"/><rect x="78.6" y="409.8" width="3.0" height="4.9" fill="#8a3fa6"/><rect x="78.6" y="415.6" width="3.0" height="3.3" fill="#e5850f"/><rect x="78.6" y="419.9" width="3.0" height="3.9" fill="#8a3fa6"/><rect x="78.6" y="425.0" width="3.0" height="18" fill="#c9004f"/><rect x="78.6" y="444.1" width="3.0" height="19.2" fill="#a8c832"/><rect x="78.6" y="464.6" width="3.0" height="14.2" fill="#8c0a14"/><text x="50.7" y="219.2" textLength="23.5" lengthAdjust="spacingAndGlyphs" font-family="Liberation Sans" font-size="5.1" fill="#1a1a1a" stroke="#1a1a1a" stroke-width="0.1">Cell Cycle</text><text x="22.8" y="247.9" textLength="51.4" lengthAdjust="spacingAndGlyphs" font-family="Liberation Sans" font-size="5.1" fill="#1a1a1a" stroke="#1a1a1a" stroke-width="0.1">Chromatin Modification</text><text x="17.8" y="283.6" textLength="56.4" lengthAdjust="spacingAndGlyphs" font-family="Liberation Sans" font-size="5.1" fill="#1a1a1a" stroke="#1a1a1a" stroke-width="0.1">Cytoskeletal Remodelling</text><text x="22.9" y="297.6" textLength="51.3" lengthAdjust="spacingAndGlyphs" font-family="Liberation Sans" font-size="5.1" fill="#1a1a1a" stroke="#1a1a1a" stroke-width="0.1">DNA Damage Pathway</text><text x="35.5" y="307.9" textLength="38.7" lengthAdjust="spacingAndGlyphs" font-family="Liberation Sans" font-size="5.1" fill="#1a1a1a" stroke="#1a1a1a" stroke-width="0.1">Genome Integrity</text><text x="40.4" y="313.9" textLength="33.8" lengthAdjust="spacingAndGlyphs" font-family="Liberation Sans" font-size="5.1" fill="#1a1a1a" stroke="#1a1a1a" stroke-width="0.1">Hippo Pathway</text><text x="28.5" y="322" textLength="45.7" lengthAdjust="spacingAndGlyphs" font-family="Liberation Sans" font-size="5.1" fill="#1a1a1a" stroke="#1a1a1a" stroke-width="0.1">Immune Surveillance</text><text x="32.6" y="336.8" textLength="41.6" lengthAdjust="spacingAndGlyphs" font-family="Liberation Sans" font-size="5.1" fill="#1a1a1a" stroke="#1a1a1a" stroke-width="0.1">JAK-STAT Pathway</text><text x="39.6" y="356" textLength="34.6" lengthAdjust="spacingAndGlyphs" font-family="Liberation Sans" font-size="5.1" fill="#1a1a1a" stroke="#1a1a1a" stroke-width="0.1">MAPK Pathway</text><text x="40" y="373.7" textLength="34.2" lengthAdjust="spacingAndGlyphs" font-family="Liberation Sans" font-size="5.1" fill="#1a1a1a" stroke="#1a1a1a" stroke-width="0.1">NFKB Pathway</text><text x="35.5" y="383.8" textLength="38.7" lengthAdjust="spacingAndGlyphs" font-family="Liberation Sans" font-size="5.1" fill="#1a1a1a" stroke="#1a1a1a" stroke-width="0.1">NOTCH Pathway</text><text x="44.4" y="389.6" textLength="29.8" lengthAdjust="spacingAndGlyphs" font-family="Liberation Sans" font-size="5.1" fill="#1a1a1a" stroke="#1a1a1a" stroke-width="0.1">PAK Pathway</text><text x="28.3" y="401.9" textLength="45.9" lengthAdjust="spacingAndGlyphs" font-family="Liberation Sans" font-size="5.1" fill="#1a1a1a" stroke="#1a1a1a" stroke-width="0.1">PI-3-Kinase Pathway</text><text x="17.8" y="416.7" textLength="56.4" lengthAdjust="spacingAndGlyphs" font-family="Liberation Sans" font-size="5.1" fill="#1a1a1a" stroke="#1a1a1a" stroke-width="0.1">RNA Abundance/Binding</text><text x="44" y="423.4" textLength="30.2" lengthAdjust="spacingAndGlyphs" font-family="Liberation Sans" font-size="5.1" fill="#1a1a1a" stroke="#1a1a1a" stroke-width="0.1">RTK Pathway</text><text x="38" y="432.8" textLength="36.2" lengthAdjust="spacingAndGlyphs" font-family="Liberation Sans" font-size="5.1" fill="#1a1a1a" stroke="#1a1a1a" stroke-width="0.1">T-cell Activation/</text><text x="23.2" y="438.9" textLength="51" lengthAdjust="spacingAndGlyphs" font-family="Liberation Sans" font-size="5.1" fill="#1a1a1a" stroke="#1a1a1a" stroke-width="0.1">Differentiation Pathway</text><text x="27.9" y="455.7" textLength="46.3" lengthAdjust="spacingAndGlyphs" font-family="Liberation Sans" font-size="5.1" fill="#1a1a1a" stroke="#1a1a1a" stroke-width="0.1">Transcription Factors</text><text x="18.9" y="473.4" textLength="55.3" lengthAdjust="spacingAndGlyphs" font-family="Liberation Sans" font-size="5.1" fill="#1a1a1a" stroke="#1a1a1a" stroke-width="0.1">Wnt/B-catenin Signalling</text><rect x="392.8" y="488.5" width="10" height="5" fill="#f2c200"/><text x="406.9" y="492.9" font-family="Liberation Sans" font-size="5.2" fill="#2a2a2a" stroke="#2a2a2a" stroke-width="0.1">ESP</text><rect x="431.6" y="488.5" width="10" height="5" fill="#b3661b"/><text x="445.9" y="492.9" font-family="Liberation Sans" font-size="5.2" fill="#2a2a2a" stroke="#2a2a2a" stroke-width="0.1">LSP</text><rect x="469.4" y="488.5" width="10" height="5" fill="#a7bc82"/><text x="483.8" y="492.9" font-family="Liberation Sans" font-size="5.2" fill="#2a2a2a" stroke="#2a2a2a" stroke-width="0.1">TMR</text></svg>
<div id="b"></div>
</div></body></html>
